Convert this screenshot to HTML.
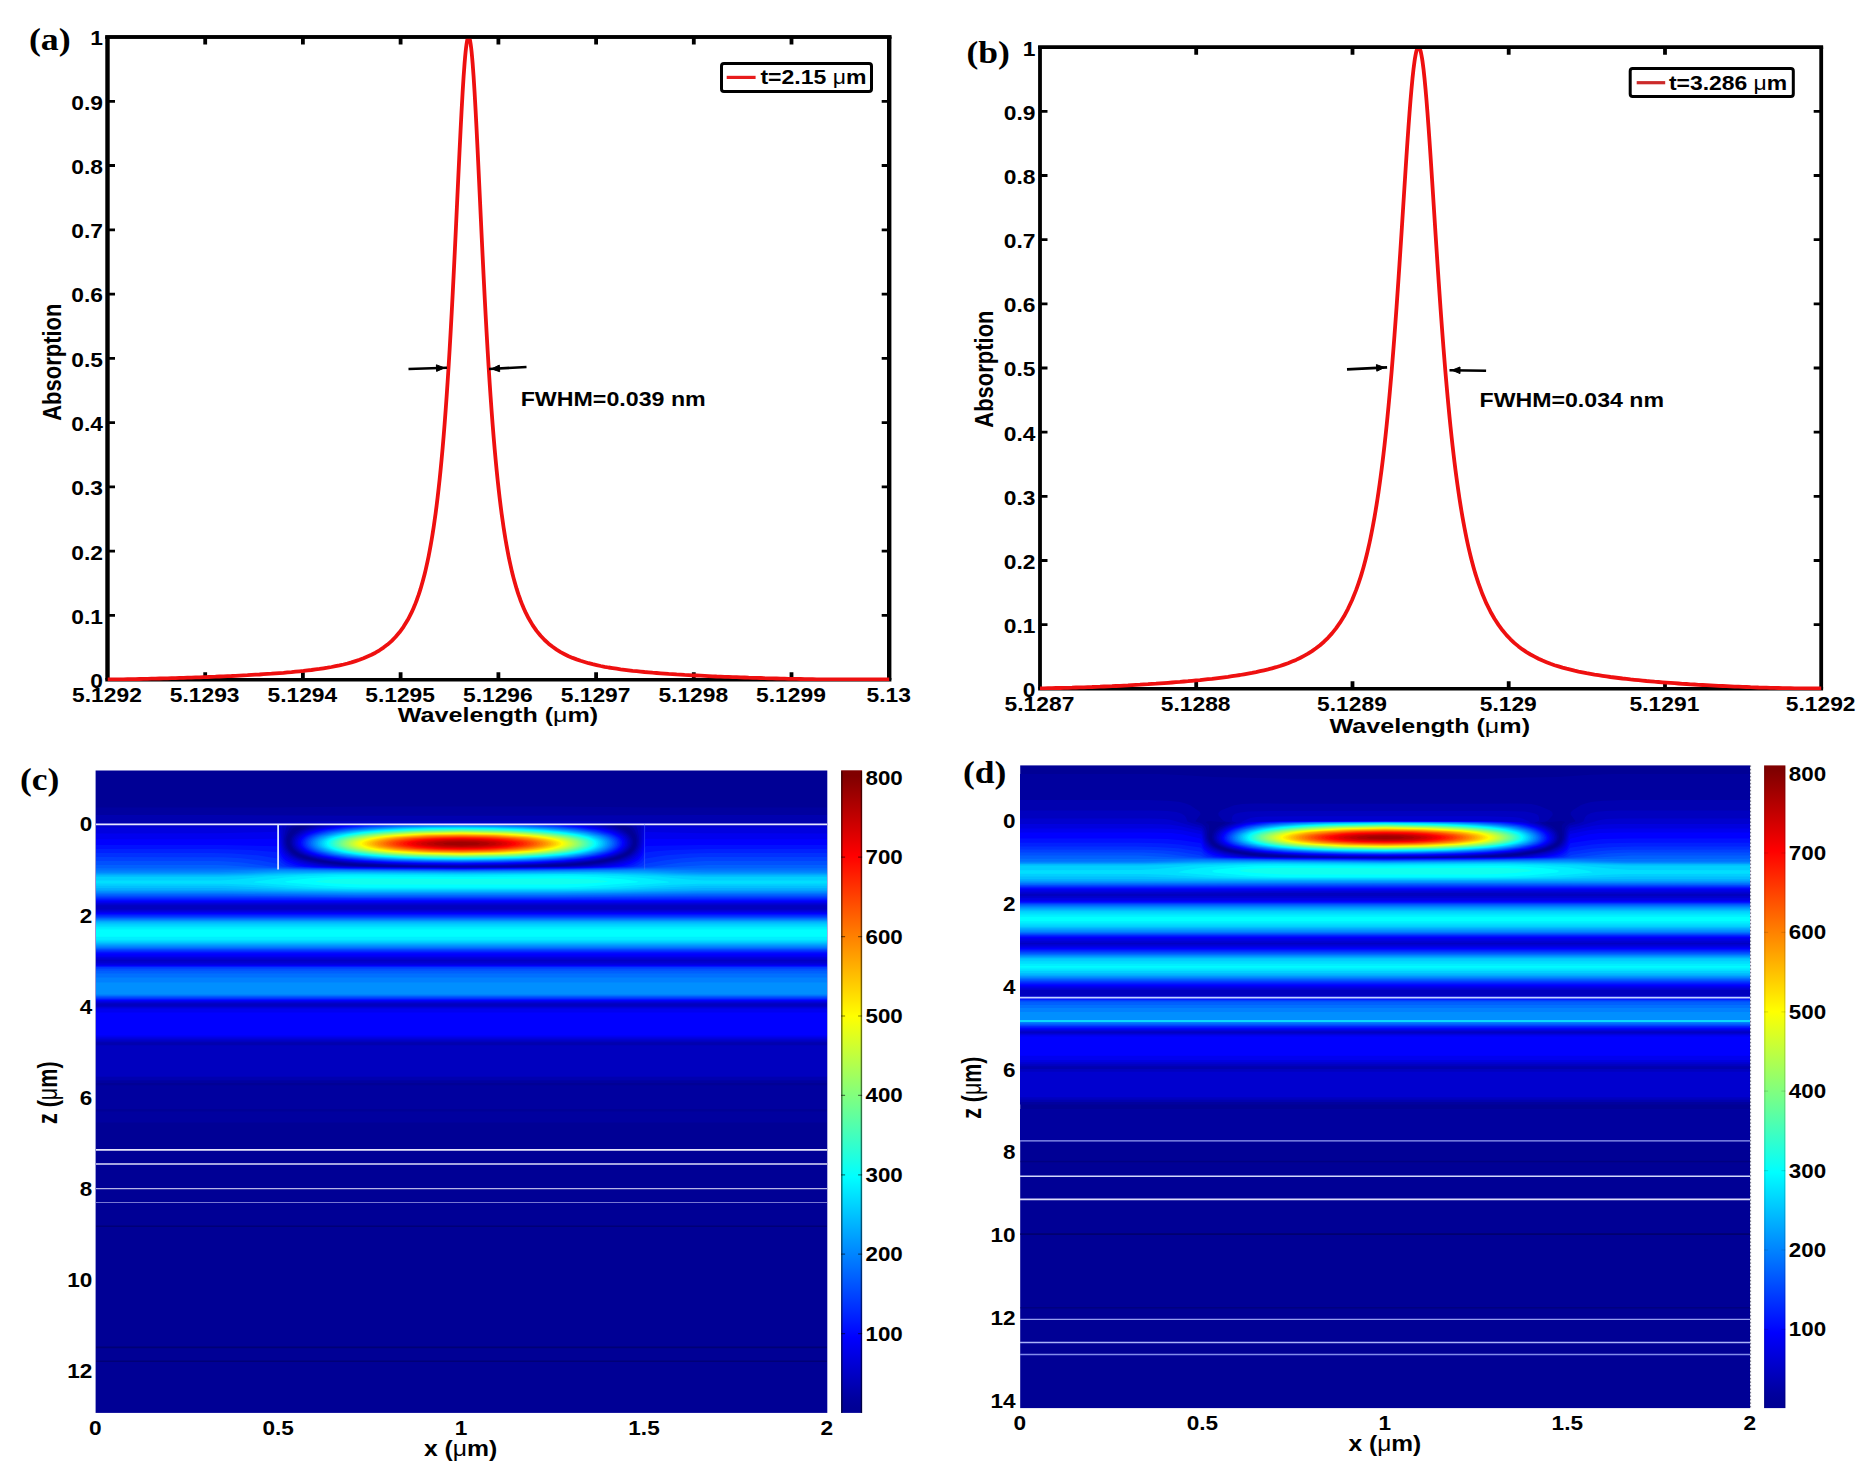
<!DOCTYPE html>
<html lang="en"><head><meta charset="utf-8"><title>Absorption spectra and field distributions</title>
<style>html,body{margin:0;padding:0;background:#fff}svg{display:block}</style></head>
<body>
<svg width="1868" height="1474" viewBox="0 0 1868 1474">
<rect width="1868" height="1474" fill="#fff"/>
<clipPath id="clipa"><rect x="107.5" y="36.0" width="781.7" height="645.2"/></clipPath>
<path d="M105.3,37.0H891.4000000000001M105.3,679.7H891.4000000000001" stroke="#000" stroke-width="3.6" fill="none"/>
<path d="M107.5,37.0V679.7M889.2,37.0V679.7" stroke="#000" stroke-width="4.4" fill="none"/>
<text transform="translate(107.0,701.7)" x="-34.9" y="0" font-family='"Liberation Sans", Arial, Helvetica, sans-serif' font-weight="bold" font-size="20" textLength="69.7" lengthAdjust="spacingAndGlyphs">5.1292</text>
<text transform="translate(204.7,701.7)" x="-34.9" y="0" font-family='"Liberation Sans", Arial, Helvetica, sans-serif' font-weight="bold" font-size="20" textLength="69.7" lengthAdjust="spacingAndGlyphs">5.1293</text>
<text transform="translate(302.4,701.7)" x="-34.9" y="0" font-family='"Liberation Sans", Arial, Helvetica, sans-serif' font-weight="bold" font-size="20" textLength="69.7" lengthAdjust="spacingAndGlyphs">5.1294</text>
<text transform="translate(400.1,701.7)" x="-34.9" y="0" font-family='"Liberation Sans", Arial, Helvetica, sans-serif' font-weight="bold" font-size="20" textLength="69.7" lengthAdjust="spacingAndGlyphs">5.1295</text>
<text transform="translate(497.9,701.7)" x="-34.9" y="0" font-family='"Liberation Sans", Arial, Helvetica, sans-serif' font-weight="bold" font-size="20" textLength="69.7" lengthAdjust="spacingAndGlyphs">5.1296</text>
<text transform="translate(595.6,701.7)" x="-34.9" y="0" font-family='"Liberation Sans", Arial, Helvetica, sans-serif' font-weight="bold" font-size="20" textLength="69.7" lengthAdjust="spacingAndGlyphs">5.1297</text>
<text transform="translate(693.3,701.7)" x="-34.9" y="0" font-family='"Liberation Sans", Arial, Helvetica, sans-serif' font-weight="bold" font-size="20" textLength="69.7" lengthAdjust="spacingAndGlyphs">5.1298</text>
<text transform="translate(791.0,701.7)" x="-34.9" y="0" font-family='"Liberation Sans", Arial, Helvetica, sans-serif' font-weight="bold" font-size="20" textLength="69.7" lengthAdjust="spacingAndGlyphs">5.1299</text>
<text transform="translate(888.7,701.7)" x="-22.2" y="0" font-family='"Liberation Sans", Arial, Helvetica, sans-serif' font-weight="bold" font-size="20" textLength="44.4" lengthAdjust="spacingAndGlyphs">5.13</text>
<path d="M205.2,679.7v-7.5M205.2,37.0v7.5M302.9,679.7v-7.5M302.9,37.0v7.5M400.6,679.7v-7.5M400.6,37.0v7.5M498.4,679.7v-7.5M498.4,37.0v7.5M596.1,679.7v-7.5M596.1,37.0v7.5M693.8,679.7v-7.5M693.8,37.0v7.5M791.5,679.7v-7.5M791.5,37.0v7.5" stroke="#000" stroke-width="3.8" fill="none"/>
<text transform="translate(102.9,688.0)" x="-12.7" y="0" font-family='"Liberation Sans", Arial, Helvetica, sans-serif' font-weight="bold" font-size="20" textLength="12.7" lengthAdjust="spacingAndGlyphs">0</text>
<text transform="translate(102.9,623.7)" x="-31.7" y="0" font-family='"Liberation Sans", Arial, Helvetica, sans-serif' font-weight="bold" font-size="20" textLength="31.7" lengthAdjust="spacingAndGlyphs">0.1</text>
<text transform="translate(102.9,559.5)" x="-31.7" y="0" font-family='"Liberation Sans", Arial, Helvetica, sans-serif' font-weight="bold" font-size="20" textLength="31.7" lengthAdjust="spacingAndGlyphs">0.2</text>
<text transform="translate(102.9,495.2)" x="-31.7" y="0" font-family='"Liberation Sans", Arial, Helvetica, sans-serif' font-weight="bold" font-size="20" textLength="31.7" lengthAdjust="spacingAndGlyphs">0.3</text>
<text transform="translate(102.9,430.9)" x="-31.7" y="0" font-family='"Liberation Sans", Arial, Helvetica, sans-serif' font-weight="bold" font-size="20" textLength="31.7" lengthAdjust="spacingAndGlyphs">0.4</text>
<text transform="translate(102.9,366.7)" x="-31.7" y="0" font-family='"Liberation Sans", Arial, Helvetica, sans-serif' font-weight="bold" font-size="20" textLength="31.7" lengthAdjust="spacingAndGlyphs">0.5</text>
<text transform="translate(102.9,302.4)" x="-31.7" y="0" font-family='"Liberation Sans", Arial, Helvetica, sans-serif' font-weight="bold" font-size="20" textLength="31.7" lengthAdjust="spacingAndGlyphs">0.6</text>
<text transform="translate(102.9,238.1)" x="-31.7" y="0" font-family='"Liberation Sans", Arial, Helvetica, sans-serif' font-weight="bold" font-size="20" textLength="31.7" lengthAdjust="spacingAndGlyphs">0.7</text>
<text transform="translate(102.9,173.8)" x="-31.7" y="0" font-family='"Liberation Sans", Arial, Helvetica, sans-serif' font-weight="bold" font-size="20" textLength="31.7" lengthAdjust="spacingAndGlyphs">0.8</text>
<text transform="translate(102.9,109.6)" x="-31.7" y="0" font-family='"Liberation Sans", Arial, Helvetica, sans-serif' font-weight="bold" font-size="20" textLength="31.7" lengthAdjust="spacingAndGlyphs">0.9</text>
<text transform="translate(102.9,45.3)" x="-12.7" y="0" font-family='"Liberation Sans", Arial, Helvetica, sans-serif' font-weight="bold" font-size="20" textLength="12.7" lengthAdjust="spacingAndGlyphs">1</text>
<path d="M107.5,615.4h7.5M889.2,615.4h-7.5M107.5,551.2h7.5M889.2,551.2h-7.5M107.5,486.9h7.5M889.2,486.9h-7.5M107.5,422.6h7.5M889.2,422.6h-7.5M107.5,358.4h7.5M889.2,358.4h-7.5M107.5,294.1h7.5M889.2,294.1h-7.5M107.5,229.8h7.5M889.2,229.8h-7.5M107.5,165.5h7.5M889.2,165.5h-7.5M107.5,101.3h7.5M889.2,101.3h-7.5" stroke="#000" stroke-width="2.8" fill="none"/>
<polyline clip-path="url(#clipa)" points="107.5,679.4 111.5,679.4 115.5,679.4 119.5,679.3 123.5,679.3 127.5,679.2 131.5,679.1 135.5,679.1 139.5,679.0 143.5,678.9 147.5,678.8 151.5,678.7 155.5,678.6 159.5,678.5 163.5,678.4 167.5,678.3 171.5,678.2 175.5,678.1 179.5,677.9 183.5,677.8 187.5,677.7 191.5,677.6 195.5,677.4 199.5,677.3 203.5,677.1 207.5,677.0 211.5,676.8 215.5,676.7 219.5,676.5 223.5,676.3 227.5,676.1 231.5,676.0 235.5,675.8 239.5,675.6 243.5,675.4 247.5,675.2 251.5,674.9 255.5,674.7 259.5,674.5 263.5,674.2 267.5,673.9 271.5,673.7 275.5,673.4 279.5,673.1 283.5,672.8 287.5,672.4 291.5,672.1 295.5,671.7 299.5,671.3 303.5,670.9 307.5,670.4 311.5,670.0 315.5,669.4 319.5,668.9 323.5,668.3 327.5,667.7 331.5,667.0 335.5,666.2 339.5,665.4 343.5,664.5 347.5,663.5 351.5,662.4 355.5,661.1 359.5,659.8 363.5,658.3 367.5,656.6 371.5,654.8 375.5,652.7 379.5,650.3 383.5,647.6 387.5,644.6 391.5,641.1 395.5,637.0 399.5,632.3 403.5,626.8 407.5,620.3 408.6,618.3 409.6,616.4 410.6,614.4 411.6,612.4 412.6,610.2 413.6,607.9 414.6,605.6 415.6,603.1 416.6,600.5 417.6,597.7 418.6,594.9 419.6,591.8 420.6,588.7 421.6,585.3 422.6,581.8 423.6,578.1 424.6,574.2 425.6,570.1 426.6,565.7 427.6,561.1 428.6,556.3 429.6,551.2 430.6,545.7 431.6,540.0 432.6,533.9 433.6,527.5 434.6,520.6 435.6,513.4 436.6,505.7 437.6,497.5 438.6,488.8 439.6,479.6 440.6,469.8 441.6,459.4 442.6,448.3 443.6,436.6 444.6,424.1 445.6,410.9 446.6,396.9 447.6,382.1 448.6,366.5 449.6,350.0 450.6,332.7 451.6,314.5 452.6,295.6 453.6,275.9 454.6,255.6 455.6,234.8 456.6,213.5 457.6,192.1 458.6,170.8 459.6,149.9 460.6,129.6 461.6,110.4 462.6,92.6 463.6,76.6 464.6,63.0 465.1,57.1 465.6,51.9 466.1,47.4 466.6,43.7 467.1,40.8 467.6,38.7 468.1,37.4 468.6,37.0 469.1,37.4 469.6,38.7 470.1,40.8 470.6,43.7 471.1,47.4 471.6,51.9 472.1,57.1 472.6,63.0 473.6,76.6 474.6,92.6 475.6,110.4 476.6,129.6 477.6,149.9 478.6,170.8 479.6,192.1 480.6,213.5 481.6,234.8 482.6,255.6 483.6,275.9 484.6,295.6 485.6,314.5 486.6,332.7 487.6,350.0 488.6,366.5 489.6,382.1 490.6,396.9 491.6,410.9 492.6,424.1 493.6,436.6 494.6,448.3 495.6,459.4 496.6,469.8 497.6,479.6 498.6,488.8 499.6,497.5 500.6,505.7 501.6,513.4 502.6,520.6 503.6,527.5 504.6,533.9 505.6,540.0 506.6,545.7 507.6,551.2 508.6,556.3 509.6,561.1 510.6,565.7 511.6,570.1 512.6,574.2 513.6,578.1 514.6,581.8 515.6,585.3 516.6,588.7 517.6,591.8 518.6,594.9 519.6,597.7 520.6,600.5 521.6,603.1 522.6,605.6 523.6,607.9 524.6,610.2 525.6,612.4 526.6,614.4 527.6,616.4 528.6,618.3 532.6,625.1 536.6,630.9 540.6,635.8 544.6,640.0 548.6,643.7 552.6,646.8 556.6,649.6 560.6,652.1 564.6,654.2 568.6,656.2 572.6,657.9 576.6,659.4 580.6,660.8 584.6,662.0 588.6,663.2 592.6,664.2 596.6,665.1 600.6,666.0 604.6,666.8 608.6,667.5 612.6,668.1 616.6,668.7 620.6,669.3 624.6,669.8 628.6,670.3 632.6,670.8 636.6,671.2 640.6,671.6 644.6,672.0 648.6,672.3 652.6,672.7 656.6,673.0 660.6,673.3 664.6,673.6 668.6,673.9 672.6,674.1 676.6,674.4 680.6,674.6 684.6,674.9 688.6,675.1 692.6,675.3 696.6,675.5 700.6,675.7 704.6,675.9 708.6,676.1 712.6,676.3 716.6,676.5 720.6,676.6 724.6,676.8 728.6,676.9 732.6,677.1 736.6,677.2 740.6,677.4 744.6,677.5 748.6,677.7 752.6,677.8 756.6,677.9 760.6,678.0 764.6,678.2 768.6,678.3 772.6,678.4 776.6,678.5 780.6,678.6 784.6,678.7 788.6,678.8 792.6,678.9 796.6,678.9 800.6,679.0 804.6,679.1 808.6,679.2 812.6,679.2 816.6,679.3 820.6,679.4 824.6,679.4 828.6,679.4 832.6,679.4 836.6,679.4 840.6,679.4 844.6,679.4 848.6,679.4 852.6,679.4 856.6,679.4 860.6,679.4 864.6,679.4 868.6,679.4 872.6,679.4 876.6,679.4 880.6,679.4 884.6,679.4 888.6,679.4 892.6,679.4" fill="none" stroke="#ee1010" stroke-width="3.8" stroke-linejoin="round"/>
<path d="M105.3,37.0H891.4000000000001" stroke="#000" stroke-width="3.6" fill="none"/>
<text transform="translate(498.0,722.0)" x="-100.2" y="0" font-family='"Liberation Sans", Arial, Helvetica, sans-serif' font-weight="bold" font-size="19.6" textLength="200.4" lengthAdjust="spacingAndGlyphs">Wavelength (<tspan font-weight="normal">μ</tspan>m)</text>
<text transform="translate(61.4,362.2) rotate(-90) scale(1,1.18)" x="-58.6" y="0" font-family='"Liberation Sans", Arial, Helvetica, sans-serif' font-weight="bold" font-size="22" textLength="117.2" lengthAdjust="spacingAndGlyphs">Absorption</text>
<rect x="721.5" y="63.5" width="150" height="28" rx="2.5" fill="#fff" stroke="#000" stroke-width="3"/>
<path d="M726.7,77.4H755.6" stroke="#e81c1c" stroke-width="3.2"/>
<text transform="translate(760.4,84.3)" x="0.0" y="0" font-family='"Liberation Sans", Arial, Helvetica, sans-serif' font-weight="bold" font-size="20" textLength="106.0" lengthAdjust="spacingAndGlyphs">t=2.15 <tspan font-weight="normal">μ</tspan>m</text>
<text transform="translate(520.7,405.6)" x="0.0" y="0" font-family='"Liberation Sans", Arial, Helvetica, sans-serif' font-weight="bold" font-size="20.5" textLength="185.0" lengthAdjust="spacingAndGlyphs">FWHM=0.039 nm</text>
<path d="M408.5,369.0L447.0,367.8" stroke="#000" stroke-width="2.6" fill="none"/>
<path d="M444.5,367.9L436.6,371.4L436.4,364.8Z" fill="#000" stroke="#000" stroke-width="1" stroke-linejoin="round"/>
<path d="M526.5,367.0L489.0,369.0" stroke="#000" stroke-width="2.6" fill="none"/>
<path d="M491.5,368.9L499.3,365.1L499.7,371.7Z" fill="#000" stroke="#000" stroke-width="1" stroke-linejoin="round"/>
<text x="28.9" y="49.5" font-family='"Liberation Serif", "Times New Roman", serif' font-weight="bold" font-size="32" textLength="41.8" lengthAdjust="spacingAndGlyphs">(a)</text>
<clipPath id="clipb"><rect x="1040.0" y="46.2" width="781.2" height="644.0999999999999"/></clipPath>
<path d="M1038.1,47.2H1823.1000000000001M1038.1,688.8H1823.1000000000001" stroke="#000" stroke-width="3.4" fill="none"/>
<path d="M1040.0,47.2V688.8M1821.2,47.2V688.8" stroke="#000" stroke-width="3.8" fill="none"/>
<text transform="translate(1039.5,710.8)" x="-34.9" y="0" font-family='"Liberation Sans", Arial, Helvetica, sans-serif' font-weight="bold" font-size="20" textLength="69.7" lengthAdjust="spacingAndGlyphs">5.1287</text>
<text transform="translate(1195.7,710.8)" x="-34.9" y="0" font-family='"Liberation Sans", Arial, Helvetica, sans-serif' font-weight="bold" font-size="20" textLength="69.7" lengthAdjust="spacingAndGlyphs">5.1288</text>
<text transform="translate(1352.0,710.8)" x="-34.9" y="0" font-family='"Liberation Sans", Arial, Helvetica, sans-serif' font-weight="bold" font-size="20" textLength="69.7" lengthAdjust="spacingAndGlyphs">5.1289</text>
<text transform="translate(1508.2,710.8)" x="-28.5" y="0" font-family='"Liberation Sans", Arial, Helvetica, sans-serif' font-weight="bold" font-size="20" textLength="57.1" lengthAdjust="spacingAndGlyphs">5.129</text>
<text transform="translate(1664.5,710.8)" x="-34.9" y="0" font-family='"Liberation Sans", Arial, Helvetica, sans-serif' font-weight="bold" font-size="20" textLength="69.7" lengthAdjust="spacingAndGlyphs">5.1291</text>
<text transform="translate(1820.7,710.8)" x="-34.9" y="0" font-family='"Liberation Sans", Arial, Helvetica, sans-serif' font-weight="bold" font-size="20" textLength="69.7" lengthAdjust="spacingAndGlyphs">5.1292</text>
<path d="M1196.2,688.8v-7.5M1196.2,47.2v7.5M1352.5,688.8v-7.5M1352.5,47.2v7.5M1508.7,688.8v-7.5M1508.7,47.2v7.5M1665.0,688.8v-7.5M1665.0,47.2v7.5" stroke="#000" stroke-width="3.8" fill="none"/>
<text transform="translate(1035.4,697.1)" x="-12.7" y="0" font-family='"Liberation Sans", Arial, Helvetica, sans-serif' font-weight="bold" font-size="20" textLength="12.7" lengthAdjust="spacingAndGlyphs">0</text>
<text transform="translate(1035.4,632.9)" x="-31.7" y="0" font-family='"Liberation Sans", Arial, Helvetica, sans-serif' font-weight="bold" font-size="20" textLength="31.7" lengthAdjust="spacingAndGlyphs">0.1</text>
<text transform="translate(1035.4,568.8)" x="-31.7" y="0" font-family='"Liberation Sans", Arial, Helvetica, sans-serif' font-weight="bold" font-size="20" textLength="31.7" lengthAdjust="spacingAndGlyphs">0.2</text>
<text transform="translate(1035.4,504.6)" x="-31.7" y="0" font-family='"Liberation Sans", Arial, Helvetica, sans-serif' font-weight="bold" font-size="20" textLength="31.7" lengthAdjust="spacingAndGlyphs">0.3</text>
<text transform="translate(1035.4,440.5)" x="-31.7" y="0" font-family='"Liberation Sans", Arial, Helvetica, sans-serif' font-weight="bold" font-size="20" textLength="31.7" lengthAdjust="spacingAndGlyphs">0.4</text>
<text transform="translate(1035.4,376.3)" x="-31.7" y="0" font-family='"Liberation Sans", Arial, Helvetica, sans-serif' font-weight="bold" font-size="20" textLength="31.7" lengthAdjust="spacingAndGlyphs">0.5</text>
<text transform="translate(1035.4,312.1)" x="-31.7" y="0" font-family='"Liberation Sans", Arial, Helvetica, sans-serif' font-weight="bold" font-size="20" textLength="31.7" lengthAdjust="spacingAndGlyphs">0.6</text>
<text transform="translate(1035.4,248.0)" x="-31.7" y="0" font-family='"Liberation Sans", Arial, Helvetica, sans-serif' font-weight="bold" font-size="20" textLength="31.7" lengthAdjust="spacingAndGlyphs">0.7</text>
<text transform="translate(1035.4,183.8)" x="-31.7" y="0" font-family='"Liberation Sans", Arial, Helvetica, sans-serif' font-weight="bold" font-size="20" textLength="31.7" lengthAdjust="spacingAndGlyphs">0.8</text>
<text transform="translate(1035.4,119.7)" x="-31.7" y="0" font-family='"Liberation Sans", Arial, Helvetica, sans-serif' font-weight="bold" font-size="20" textLength="31.7" lengthAdjust="spacingAndGlyphs">0.9</text>
<text transform="translate(1035.4,55.5)" x="-12.7" y="0" font-family='"Liberation Sans", Arial, Helvetica, sans-serif' font-weight="bold" font-size="20" textLength="12.7" lengthAdjust="spacingAndGlyphs">1</text>
<path d="M1040.0,624.6h7.5M1821.2,624.6h-7.5M1040.0,560.5h7.5M1821.2,560.5h-7.5M1040.0,496.3h7.5M1821.2,496.3h-7.5M1040.0,432.2h7.5M1821.2,432.2h-7.5M1040.0,368.0h7.5M1821.2,368.0h-7.5M1040.0,303.8h7.5M1821.2,303.8h-7.5M1040.0,239.7h7.5M1821.2,239.7h-7.5M1040.0,175.5h7.5M1821.2,175.5h-7.5M1040.0,111.4h7.5M1821.2,111.4h-7.5" stroke="#000" stroke-width="2.8" fill="none"/>
<polyline clip-path="url(#clipb)" points="1040.0,688.3 1044.0,688.3 1048.0,688.2 1052.0,688.1 1056.0,688.0 1060.0,688.0 1064.0,687.9 1068.0,687.8 1072.0,687.7 1076.0,687.5 1080.0,687.4 1084.0,687.3 1088.0,687.1 1092.0,687.0 1096.0,686.8 1100.0,686.7 1104.0,686.5 1108.0,686.3 1112.0,686.2 1116.0,686.0 1120.0,685.8 1124.0,685.6 1128.0,685.4 1132.0,685.1 1136.0,684.9 1140.0,684.7 1144.0,684.4 1148.0,684.2 1152.0,683.9 1156.0,683.7 1160.0,683.4 1164.0,683.1 1168.0,682.8 1172.0,682.5 1176.0,682.2 1180.0,681.9 1184.0,681.5 1188.0,681.2 1192.0,680.8 1196.0,680.4 1200.0,680.1 1204.0,679.6 1208.0,679.2 1212.0,678.8 1216.0,678.3 1220.0,677.8 1224.0,677.3 1228.0,676.8 1232.0,676.2 1236.0,675.6 1240.0,675.0 1244.0,674.3 1248.0,673.6 1252.0,672.9 1256.0,672.1 1260.0,671.2 1264.0,670.3 1268.0,669.4 1272.0,668.3 1276.0,667.2 1280.0,666.0 1284.0,664.6 1288.0,663.2 1292.0,661.6 1296.0,659.9 1300.0,658.0 1304.0,655.9 1308.0,653.7 1312.0,651.1 1316.0,648.3 1320.0,645.2 1324.0,641.7 1328.0,637.8 1332.0,633.4 1336.0,628.4 1340.0,622.7 1344.0,616.3 1348.0,608.8 1352.0,600.3 1356.0,590.4 1358.5,583.4 1359.5,580.4 1360.5,577.3 1361.5,574.1 1362.5,570.7 1363.5,567.2 1364.5,563.5 1365.5,559.7 1366.5,555.7 1367.5,551.6 1368.5,547.3 1369.5,542.8 1370.5,538.1 1371.5,533.1 1372.5,528.0 1373.5,522.7 1374.5,517.1 1375.5,511.2 1376.5,505.1 1377.5,498.7 1378.5,492.1 1379.5,485.1 1380.5,477.8 1381.5,470.2 1382.5,462.2 1383.5,453.9 1384.5,445.2 1385.5,436.1 1386.5,426.6 1387.5,416.7 1388.5,406.4 1389.5,395.6 1390.5,384.4 1391.5,372.8 1392.5,360.7 1393.5,348.1 1394.5,335.1 1395.5,321.7 1396.5,307.8 1397.5,293.5 1398.5,278.9 1399.5,264.0 1400.5,248.7 1401.5,233.3 1402.5,217.7 1403.5,202.0 1404.5,186.4 1405.5,170.9 1406.5,155.7 1407.5,140.9 1408.5,126.6 1409.5,113.1 1410.5,100.4 1411.5,88.8 1412.5,78.3 1413.5,69.1 1414.5,61.4 1415.0,58.1 1415.5,55.3 1416.0,52.8 1416.5,50.8 1417.0,49.2 1417.5,48.1 1418.0,47.4 1418.5,47.2 1419.0,47.4 1419.5,48.1 1420.0,49.2 1420.5,50.8 1421.0,52.8 1421.5,55.3 1422.0,58.1 1422.5,61.4 1423.5,69.1 1424.5,78.3 1425.5,88.8 1426.5,100.4 1427.5,113.1 1428.5,126.6 1429.5,140.9 1430.5,155.7 1431.5,170.9 1432.5,186.4 1433.5,202.0 1434.5,217.7 1435.5,233.3 1436.5,248.7 1437.5,264.0 1438.5,278.9 1439.5,293.5 1440.5,307.8 1441.5,321.7 1442.5,335.1 1443.5,348.1 1444.5,360.7 1445.5,372.8 1446.5,384.4 1447.5,395.6 1448.5,406.4 1449.5,416.7 1450.5,426.6 1451.5,436.1 1452.5,445.2 1453.5,453.9 1454.5,462.2 1455.5,470.2 1456.5,477.8 1457.5,485.1 1458.5,492.1 1459.5,498.7 1460.5,505.1 1461.5,511.2 1462.5,517.1 1463.5,522.7 1464.5,528.0 1465.5,533.1 1466.5,538.1 1467.5,542.8 1468.5,547.3 1469.5,551.6 1470.5,555.7 1471.5,559.7 1472.5,563.5 1473.5,567.2 1474.5,570.7 1475.5,574.1 1476.5,577.3 1477.5,580.4 1478.5,583.4 1482.5,594.3 1486.5,603.7 1490.5,611.7 1494.5,618.8 1498.5,624.9 1502.5,630.3 1506.5,635.1 1510.5,639.3 1514.5,643.1 1518.5,646.4 1522.5,649.4 1526.5,652.1 1530.5,654.5 1534.5,656.7 1538.5,658.8 1542.5,660.6 1546.5,662.2 1550.5,663.8 1554.5,665.2 1558.5,666.4 1562.5,667.6 1566.5,668.7 1570.5,669.7 1574.5,670.7 1578.5,671.6 1582.5,672.4 1586.5,673.2 1590.5,673.9 1594.5,674.6 1598.5,675.2 1602.5,675.8 1606.5,676.4 1610.5,677.0 1614.5,677.5 1618.5,678.0 1622.5,678.5 1626.5,678.9 1630.5,679.4 1634.5,679.8 1638.5,680.2 1642.5,680.6 1646.5,681.0 1650.5,681.3 1654.5,681.7 1658.5,682.0 1662.5,682.3 1666.5,682.6 1670.5,682.9 1674.5,683.2 1678.5,683.5 1682.5,683.8 1686.5,684.0 1690.5,684.3 1694.5,684.5 1698.5,684.8 1702.5,685.0 1706.5,685.2 1710.5,685.4 1714.5,685.6 1718.5,685.8 1722.5,686.0 1726.5,686.2 1730.5,686.4 1734.5,686.6 1738.5,686.7 1742.5,686.9 1746.5,687.0 1750.5,687.2 1754.5,687.3 1758.5,687.5 1762.5,687.6 1766.5,687.7 1770.5,687.8 1774.5,687.9 1778.5,688.0 1782.5,688.1 1786.5,688.2 1790.5,688.2 1794.5,688.3 1798.5,688.4 1802.5,688.4 1806.5,688.5 1810.5,688.5 1814.5,688.5 1818.5,688.5 1822.5,688.5" fill="none" stroke="#ee1010" stroke-width="3.8" stroke-linejoin="round"/>
<path d="M1038.1,47.2H1823.1000000000001" stroke="#000" stroke-width="3.4" fill="none"/>
<text transform="translate(1429.8,732.6)" x="-100.2" y="0" font-family='"Liberation Sans", Arial, Helvetica, sans-serif' font-weight="bold" font-size="19.6" textLength="200.4" lengthAdjust="spacingAndGlyphs">Wavelength (<tspan font-weight="normal">μ</tspan>m)</text>
<text transform="translate(993.4,369.1) rotate(-90) scale(1,1.18)" x="-58.6" y="0" font-family='"Liberation Sans", Arial, Helvetica, sans-serif' font-weight="bold" font-size="22" textLength="117.2" lengthAdjust="spacingAndGlyphs">Absorption</text>
<rect x="1630.2" y="68.5" width="163.0999999999999" height="28" rx="2.5" fill="#fff" stroke="#000" stroke-width="3"/>
<path d="M1636.7,82.7H1665.2" stroke="#cc2a2a" stroke-width="3.2"/>
<text transform="translate(1668.9,89.6)" x="0.0" y="0" font-family='"Liberation Sans", Arial, Helvetica, sans-serif' font-weight="bold" font-size="20" textLength="118.3" lengthAdjust="spacingAndGlyphs">t=3.286 <tspan font-weight="normal">μ</tspan>m</text>
<text transform="translate(1479.6,407.3)" x="0.0" y="0" font-family='"Liberation Sans", Arial, Helvetica, sans-serif' font-weight="bold" font-size="20.5" textLength="184.4" lengthAdjust="spacingAndGlyphs">FWHM=0.034 nm</text>
<path d="M1347.0,369.4L1387.1,367.4" stroke="#000" stroke-width="2.6" fill="none"/>
<path d="M1384.6,367.5L1376.8,371.2L1376.4,364.6Z" fill="#000" stroke="#000" stroke-width="1" stroke-linejoin="round"/>
<path d="M1486.1,370.7L1449.5,370.2" stroke="#000" stroke-width="2.6" fill="none"/>
<path d="M1452.0,370.2L1460.0,367.0L1460.0,373.6Z" fill="#000" stroke="#000" stroke-width="1" stroke-linejoin="round"/>
<text x="966.5" y="63" font-family='"Liberation Serif", "Times New Roman", serif' font-weight="bold" font-size="32" textLength="43.4" lengthAdjust="spacingAndGlyphs">(b)</text>
<rect x="95.6" y="770.5" width="731.7" height="642.4" fill="#000095"/>
<clipPath id="hcc"><rect x="96" y="771" width="731" height="642"/></clipPath>
<g clip-path="url(#hcc)">
<path fill="#00009f" fill-rule="evenodd" d="M92.6,807.5 268.5,807.4 367.5,806.6 558.4,806.6 655.4,807.4 830.3,807.5 830.3,1083.1 92.6,1083.1ZM287.7,836.5 287.1,839.5 287.2,843.5 288.0,846.5 289.7,849.5 292.6,852.6 295.5,854.6 299.6,856.6 305.2,858.6 318.8,861.6 343.2,864.6 367.5,866.0 378.8,865.6 360.5,865.0 346.5,863.9 328.5,861.8 316.5,859.7 310.5,858.3 303.5,856.1 298.5,853.8 294.0,850.5 291.0,846.5 290.0,842.5 290.5,838.5 292.5,834.8 296.5,831.0 301.5,828.1 308.8,825.5 309.5,824.5 301.5,824.5 296.5,826.0 293.5,828.1 291.5,830.1 289.1,833.5ZM635.5,836.5 634.4,834.1 632.1,830.5 629.4,827.9 626.4,825.9 621.7,824.5 613.7,824.5 614.4,825.5 621.4,828.0 626.4,830.8 630.5,834.5 632.7,838.5 633.1,840.5 633.1,843.5 631.7,847.5 628.4,851.3 624.4,854.0 619.4,856.2 613.4,858.1 606.4,859.8 594.4,861.9 576.4,863.9 563.4,864.9 544.4,865.6 556.4,866.0 580.0,864.6 604.4,861.6 618.0,858.6 623.4,856.7 627.7,854.6 630.6,852.6 633.4,849.7 635.2,846.5 636.0,843.5 636.1,839.5ZM92.6,1085.2 830.3,1085.2 830.3,1108.9 92.6,1108.9ZM92.6,1111.6 830.3,1111.6 830.3,1122.4 92.6,1122.4Z"/>
<path fill="#0000af" fill-rule="evenodd" d="M92.6,815.1 221.5,815.1 367.5,815.7 571.4,815.6 701.4,815.1 830.3,815.1 830.3,1080.2 92.6,1080.2ZM285.5,840.5 285.9,844.5 287.0,847.5 288.5,850.2 290.7,852.6 293.5,854.7 297.5,856.9 302.5,858.8 308.5,860.5 322.5,863.1 344.3,865.6 363.0,866.6 395.5,867.0 543.4,866.8 560.2,866.6 587.4,864.8 601.4,863.0 612.4,861.0 620.4,858.9 626.4,856.5 631.4,853.5 635.1,849.5 637.0,845.5 637.7,840.5 637.0,835.5 635.0,830.5 632.4,826.7 630.4,825.1 627.4,824.4 619.4,823.9 605.9,824.5 617.4,828.1 623.4,830.8 626.4,832.9 629.2,835.5 631.4,839.5 631.7,841.5 631.4,844.5 630.1,847.5 628.4,849.6 626.2,851.6 622.4,853.8 613.4,857.2 605.4,859.1 594.4,861.0 577.4,862.9 563.4,864.0 508.4,866.0 461.5,866.5 415.5,866.0 360.5,864.0 345.5,862.9 328.5,860.9 317.5,859.0 309.5,857.1 300.5,853.7 297.0,851.6 294.7,849.5 293.1,847.5 291.8,844.5 291.5,841.5 291.8,839.5 292.6,837.5 294.5,834.9 299.5,831.0 305.5,828.2 317.3,824.5 302.5,824.0 294.5,824.5 292.5,825.3 290.1,827.5 287.8,831.5 286.0,836.5Z"/>
<path fill="#0000bf" fill-rule="evenodd" d="M92.6,823.3 232.5,823.2 278.4,822.5 324.5,821.2 367.5,820.8 568.4,820.8 689.4,823.2 830.3,823.3 830.3,1042.2 92.6,1042.2ZM284.1,839.5 284.5,844.5 285.9,848.5 288.5,852.3 291.5,854.9 296.5,857.7 302.5,859.9 310.5,861.9 318.5,863.4 334.5,865.5 349.7,866.6 395.5,867.3 461.5,867.5 528.4,867.3 573.5,866.6 588.4,865.5 604.4,863.4 613.4,861.7 620.4,860.0 626.4,857.8 631.4,855.1 634.4,852.6 637.3,848.5 638.7,844.5 639.1,839.5 638.8,835.5 637.4,828.8 636.3,825.5 635.4,824.2 632.4,823.7 617.4,823.1 599.4,824.1 597.7,824.5 612.4,827.8 620.4,830.8 626.2,834.5 628.1,836.5 629.3,838.5 630.0,840.5 630.1,843.5 629.4,846.0 627.7,848.5 625.6,850.5 622.4,852.7 618.4,854.6 613.4,856.3 604.4,858.5 593.4,860.4 579.4,862.1 563.4,863.3 519.4,865.1 461.5,865.8 403.5,865.1 359.5,863.3 343.5,862.0 329.5,860.4 318.5,858.5 309.5,856.2 304.8,854.6 300.6,852.6 297.6,850.5 295.5,848.5 293.6,845.5 293.1,843.5 293.2,840.5 293.9,838.5 295.1,836.5 297.0,834.5 302.5,831.0 310.5,827.9 325.5,824.5 323.5,824.1 305.5,823.1 288.5,824.0 287.4,824.5 286.2,827.5 284.4,835.5ZM92.6,1045.2 830.3,1045.2 830.3,1076.7 92.6,1076.7Z"/>
<path fill="#0000cf" fill-rule="evenodd" d="M294.6,842.5 295.1,839.5 297.0,836.5 300.5,833.7 305.5,831.0 310.5,829.2 317.5,827.3 336.5,824.1 377.5,823.2 460.5,822.9 544.4,823.2 586.4,824.1 605.4,827.3 612.4,829.1 617.4,830.9 622.5,833.5 626.2,836.5 628.1,839.5 628.6,842.5 628.0,845.5 626.0,848.5 622.4,851.5 618.5,853.6 613.4,855.5 607.4,857.1 590.4,860.2 569.4,862.3 540.4,863.9 502.4,865.0 461.5,865.3 420.5,865.0 382.5,863.9 353.5,862.3 332.5,860.2 316.5,857.3 310.1,855.6 304.5,853.5 300.5,851.3 297.2,848.5 295.2,845.5ZM92.6,824.2 279.5,824.2 281.1,824.5 282.0,825.5 282.7,830.5 282.6,838.5 283.0,843.5 284.0,847.5 286.2,851.6 289.5,855.1 293.5,857.6 299.5,860.1 306.5,862.1 323.5,865.1 338.8,866.6 391.9,867.6 461.5,867.8 531.3,867.6 584.4,866.6 600.4,865.0 617.4,861.9 624.4,859.9 629.8,857.6 634.3,854.6 637.0,851.6 639.2,847.5 640.2,843.5 640.6,838.5 640.5,830.5 641.2,825.5 642.1,824.5 644.4,824.2 830.3,824.2 830.3,905.2 92.6,905.2ZM92.6,909.5 830.3,909.5 830.3,960.2 92.6,960.2ZM92.6,961.3 830.3,961.3 830.3,1003.5 92.6,1003.5ZM92.6,1006.4 830.3,1006.4 830.3,1040.5 92.6,1040.5Z"/>
<path fill="#0000df" fill-rule="evenodd" d="M296.1,842.5 296.8,839.5 299.0,836.5 302.5,833.9 307.3,831.5 312.5,829.7 319.5,827.9 337.5,825.1 347.5,824.2 364.5,823.8 460.5,823.6 558.4,823.8 575.4,824.2 585.4,825.1 603.4,827.9 610.4,829.6 615.9,831.5 621.4,834.3 624.2,836.5 626.4,839.5 627.1,842.5 626.5,845.5 624.4,848.5 621.4,850.9 617.4,853.1 612.4,855.0 605.4,856.9 588.4,859.9 567.4,862.0 540.4,863.4 504.4,864.4 461.5,864.8 418.5,864.4 382.5,863.4 355.5,861.9 334.5,859.8 317.5,856.8 310.5,854.9 305.5,852.9 301.5,850.7 298.8,848.5 296.7,845.5ZM92.6,827.6 219.5,827.5 277.5,826.6 278.5,826.8 280.3,830.5 282.0,845.5 283.4,849.5 285.5,853.1 289.1,856.6 293.5,859.1 298.5,861.1 306.5,863.2 320.5,865.7 329.2,866.6 389.5,867.8 461.5,868.1 534.4,867.8 594.0,866.6 603.4,865.6 617.4,863.0 625.4,860.8 630.4,858.8 635.3,855.6 638.1,852.6 639.8,849.5 641.2,845.5 642.9,830.5 644.4,827.2 645.4,826.6 703.4,827.5 830.3,827.6 830.3,903.8 92.6,903.8ZM92.6,910.8 830.3,910.8 830.3,958.6 92.6,958.6ZM92.6,963.3 830.3,963.3 830.3,1002.4 92.6,1002.4ZM92.6,1007.6 830.3,1007.6 830.3,1038.8 92.6,1038.8Z"/>
<path fill="#0000ef" fill-rule="evenodd" d="M297.7,842.5 298.5,839.5 300.5,836.9 303.8,834.5 308.5,832.2 314.5,830.2 320.5,828.7 338.5,825.8 352.7,824.5 367.5,824.1 460.5,823.7 555.4,824.1 570.5,824.5 584.4,825.8 602.4,828.6 608.4,830.1 614.4,832.1 619.4,834.5 622.4,836.6 624.7,839.5 625.5,842.5 624.9,845.5 623.6,847.5 620.4,850.3 616.4,852.6 611.1,854.6 604.4,856.4 587.4,859.4 567.4,861.4 538.4,863.0 501.4,864.1 461.5,864.4 421.5,864.0 384.5,863.0 355.5,861.4 335.5,859.4 318.5,856.3 312.1,854.6 306.8,852.6 302.5,850.1 299.6,847.5 298.3,845.5ZM92.6,833.4 220.5,833.3 277.5,831.8 278.5,832.1 279.0,833.5 280.6,844.5 281.6,848.5 283.3,852.6 285.6,855.6 289.5,858.6 294.5,861.1 301.5,863.3 309.5,865.1 320.3,866.6 349.5,867.5 461.5,868.3 574.4,867.5 602.9,866.6 614.4,864.9 622.4,863.1 629.4,860.8 633.8,858.6 637.6,855.6 639.9,852.6 641.6,848.5 642.6,844.5 644.2,833.5 645.4,831.9 703.4,833.3 830.3,833.4 830.3,902.7 92.6,902.7ZM92.6,912.1 830.3,912.1 830.3,957.1 92.6,957.1ZM92.6,964.7 830.3,964.7 830.3,1001.5 92.6,1001.5ZM92.6,1008.7 830.3,1008.7 830.3,1037.2 92.6,1037.2Z"/>
<path fill="#0000ff" fill-rule="evenodd" d="M299.3,842.5 300.2,839.5 302.5,836.9 306.1,834.5 310.5,832.6 316.5,830.6 323.5,828.9 341.5,826.2 356.5,824.9 371.5,824.3 461.5,823.8 551.4,824.3 566.4,824.9 581.4,826.2 599.4,828.9 606.4,830.5 612.4,832.5 617.1,834.5 620.4,836.6 623.0,839.5 623.9,842.5 623.3,845.5 621.9,847.5 618.4,850.4 614.2,852.6 608.6,854.6 602.4,856.2 585.4,859.1 564.4,861.2 535.4,862.7 499.4,863.6 461.5,864.0 423.5,863.6 387.5,862.7 358.5,861.1 337.5,859.1 320.5,856.1 314.5,854.5 309.0,852.6 304.5,850.2 301.3,847.5 299.9,845.5ZM92.6,839.2 222.5,839.2 277.5,838.7 278.5,839.6 279.8,846.5 281.2,851.6 282.8,854.6 285.3,857.6 288.5,860.0 293.5,862.3 299.5,864.2 306.5,865.8 316.5,866.8 347.5,867.8 461.5,868.6 575.4,867.8 605.4,866.9 616.4,865.8 623.4,864.2 630.4,862.0 634.4,860.1 637.9,857.6 639.7,855.6 641.6,852.6 643.2,847.5 644.4,841.2 645.4,838.9 646.4,838.7 700.4,839.2 830.3,839.2 830.3,901.6 92.6,901.6ZM92.6,913.1 830.3,913.1 830.3,955.4 92.6,955.4ZM92.6,965.5 830.3,965.5 830.3,1000.7 92.6,1000.7ZM92.6,1012.6 830.3,1012.6 830.3,1035.4 92.6,1035.4Z"/>
<path fill="#0010ff" fill-rule="evenodd" d="M300.9,842.5 301.9,839.5 303.7,837.5 306.5,835.5 311.5,833.2 323.5,829.8 341.5,826.9 356.5,825.5 374.3,824.5 461.5,824.0 548.9,824.5 566.4,825.5 581.4,826.9 599.4,829.7 611.4,833.1 616.4,835.4 619.5,837.5 621.3,839.5 622.3,842.5 621.7,845.5 620.2,847.5 616.4,850.5 612.4,852.4 607.4,854.2 600.4,856.0 583.4,858.8 562.4,860.8 535.4,862.3 500.4,863.2 461.5,863.5 422.5,863.2 387.5,862.2 360.5,860.8 339.5,858.8 322.5,855.9 315.5,854.1 310.5,852.3 306.5,850.3 303.0,847.5 301.5,845.5ZM92.6,845.0 224.5,845.0 277.5,846.2 278.5,847.0 280.0,852.6 281.5,855.8 283.5,858.5 285.5,860.2 288.5,862.0 293.5,864.0 298.6,865.6 304.2,866.6 325.0,867.6 353.5,868.2 461.5,868.9 569.4,868.2 598.2,867.6 619.0,866.6 624.6,865.6 630.4,863.8 635.4,861.6 638.4,859.7 641.8,855.6 643.2,852.6 644.4,848.2 645.4,846.4 646.4,846.1 699.4,845.0 830.3,845.0 830.3,900.5 92.6,900.5ZM92.6,914.0 830.3,914.0 830.3,953.6 92.6,953.6ZM92.6,966.0 830.3,966.0 830.3,1000.1 92.6,1000.1Z"/>
<path fill="#0020ff" fill-rule="evenodd" d="M302.5,842.5 303.7,839.5 305.6,837.5 308.7,835.5 313.5,833.5 319.5,831.6 326.5,830.0 344.5,827.3 364.0,825.5 387.1,824.5 461.5,824.1 536.1,824.5 559.2,825.5 579.4,827.4 597.4,830.1 609.9,833.5 614.5,835.5 617.6,837.5 619.5,839.5 620.7,842.5 620.0,845.5 618.5,847.5 616.1,849.5 611.4,851.9 606.4,853.7 599.4,855.5 583.4,858.3 562.4,860.4 534.4,861.9 499.4,862.8 461.5,863.2 424.5,862.9 389.5,861.9 360.5,860.3 340.5,858.4 323.5,855.5 316.5,853.6 311.5,851.8 307.1,849.5 304.7,847.5 303.2,845.5ZM92.6,849.0 216.6,849.0 251.5,850.1 277.5,852.3 278.5,853.0 280.9,858.6 283.5,861.3 286.5,863.2 290.5,865.0 296.7,866.6 313.8,867.6 346.5,868.3 461.5,869.1 576.4,868.3 609.4,867.6 626.5,866.6 633.4,864.7 639.4,861.5 642.4,858.4 644.4,853.9 645.4,852.5 655.4,851.3 672.4,850.0 706.3,849.1 830.3,849.0 830.3,899.5 556.4,899.9 92.6,899.5ZM92.6,914.8 830.3,914.8 830.3,952.3 92.6,952.3ZM92.6,966.5 830.3,966.5 830.3,999.5 92.6,999.5Z"/>
<path fill="#0030ff" fill-rule="evenodd" d="M304.2,842.5 305.4,839.5 307.5,837.5 310.9,835.5 314.5,834.0 327.5,830.5 344.5,827.9 366.5,825.9 388.5,824.9 461.5,824.3 534.4,824.9 556.4,825.9 578.4,827.9 595.4,830.4 608.4,833.9 612.3,835.5 615.7,837.5 617.8,839.5 619.0,842.5 618.4,845.5 616.8,847.5 614.2,849.5 610.3,851.6 604.6,853.6 598.4,855.1 581.4,858.0 561.4,860.0 534.4,861.5 501.4,862.4 461.5,862.8 422.5,862.4 388.5,861.4 361.5,860.0 341.5,858.0 324.5,855.1 318.5,853.5 312.9,851.6 309.0,849.5 306.4,847.5 304.8,845.5ZM92.6,853.0 213.6,853.0 232.5,853.5 257.5,855.3 277.5,858.4 278.5,858.9 281.5,862.8 286.0,865.6 289.5,866.6 296.5,867.1 316.5,868.0 351.5,868.7 461.5,869.4 571.4,868.7 605.4,868.1 626.4,867.2 633.7,866.6 637.2,865.6 641.4,863.0 645.4,858.5 666.4,855.3 690.4,853.5 710.3,853.0 830.3,853.0 830.3,898.4 556.4,899.0 92.6,898.4ZM92.6,915.6 830.3,915.6 830.3,951.4 92.6,951.4ZM92.6,967.1 830.3,967.1 830.3,998.9 92.6,998.9Z"/>
<path fill="#0040ff" fill-rule="evenodd" d="M305.8,843.5 306.5,840.5 308.2,838.5 311.1,836.5 314.5,834.9 320.5,833.0 327.5,831.2 343.5,828.7 363.5,826.7 387.5,825.3 422.8,824.5 461.5,824.4 500.4,824.5 536.4,825.3 560.4,826.8 580.4,828.7 596.4,831.4 608.4,834.8 612.1,836.5 615.0,838.5 616.7,840.5 617.4,843.5 616.7,845.5 615.1,847.5 612.3,849.5 607.4,851.8 595.4,855.2 578.4,857.9 558.4,859.8 531.4,861.2 498.4,862.1 461.5,862.4 425.5,862.1 392.5,861.2 365.5,859.8 345.5,858.0 328.5,855.3 316.5,852.1 312.8,850.5 309.3,848.5 307.1,846.5ZM92.6,856.9 223.5,857.2 241.5,858.3 258.5,860.3 278.5,864.0 280.3,865.6 282.7,866.6 294.5,867.6 350.5,869.0 461.5,869.6 571.4,869.0 628.4,867.6 640.5,866.6 642.9,865.6 645.4,863.8 665.4,860.2 682.4,858.2 700.4,857.1 830.3,856.9 830.3,897.4 698.4,897.4 556.4,898.1 355.5,898.1 225.5,897.4 92.6,897.4ZM92.6,916.4 830.3,916.4 830.3,950.6 92.6,950.6ZM92.6,967.6 830.3,967.6 830.3,998.2 92.6,998.2Z"/>
<path fill="#0050ff" fill-rule="evenodd" d="M307.5,843.5 307.7,841.5 309.5,839.1 312.5,836.9 316.5,835.1 328.5,831.7 345.5,829.0 366.5,827.0 392.7,825.5 423.5,824.8 461.5,824.6 499.4,824.8 530.5,825.5 557.4,827.1 578.4,829.1 595.4,831.9 607.4,835.4 611.7,837.5 614.2,839.5 615.5,841.5 615.7,843.5 615.1,845.5 613.4,847.5 610.4,849.5 605.4,851.8 593.4,855.0 576.4,857.6 556.4,859.5 529.4,860.9 496.4,861.8 461.5,862.1 426.5,861.8 393.5,860.9 366.5,859.4 346.5,857.6 329.5,854.9 317.5,851.7 312.8,849.5 309.9,847.5 308.1,845.5ZM92.6,860.9 218.5,861.0 241.5,862.5 270.5,866.6 298.5,868.3 354.5,869.3 461.5,870.0 570.4,869.3 625.4,868.3 652.7,866.6 681.4,862.6 705.3,861.0 830.3,860.9 830.3,896.4 698.4,896.4 556.4,897.3 355.5,897.2 225.5,896.4 92.6,896.4ZM92.6,917.2 830.3,917.2 830.3,949.8 92.6,949.8ZM92.6,969.0 830.3,969.0 830.3,997.5 92.6,997.5Z"/>
<path fill="#0060ff" fill-rule="evenodd" d="M309.2,843.5 309.5,841.5 310.8,839.5 313.5,837.5 317.6,835.5 323.5,833.7 330.5,832.0 347.5,829.3 370.5,827.2 397.5,825.8 425.5,825.1 461.5,824.9 498.4,825.1 526.4,825.8 553.4,827.3 576.4,829.4 592.4,831.9 599.4,833.6 605.4,835.5 609.7,837.5 612.4,839.5 613.7,841.5 614.0,843.5 613.4,845.5 611.6,847.5 608.5,849.5 603.9,851.6 592.4,854.6 575.4,857.3 555.4,859.1 529.4,860.5 497.4,861.4 461.5,861.7 425.5,861.4 393.5,860.5 367.5,859.1 347.5,857.2 331.5,854.8 319.3,851.6 314.7,849.5 311.6,847.5 309.8,845.5ZM92.6,864.9 214.6,864.9 225.5,865.3 250.5,867.0 306.5,869.0 391.5,870.0 461.5,870.3 531.4,870.0 616.4,869.0 672.4,867.0 708.3,864.9 830.3,864.9 830.3,895.4 698.4,895.4 556.4,896.4 355.5,896.4 224.5,895.4 92.6,895.4ZM92.6,917.9 830.3,917.9 830.3,949.0 92.6,949.0ZM92.6,970.8 830.3,970.8 830.3,996.7 92.6,996.7Z"/>
<path fill="#0070ff" fill-rule="evenodd" d="M310.9,843.5 311.2,841.5 312.7,839.5 315.5,837.5 320.0,835.5 332.5,832.2 347.5,829.9 369.5,827.8 397.5,826.2 422.5,825.5 461.5,825.2 500.4,825.5 525.4,826.2 553.4,827.8 575.4,829.8 591.4,832.4 603.2,835.5 607.7,837.5 610.5,839.5 612.0,841.5 612.4,843.5 611.7,845.5 609.8,847.5 606.6,849.5 601.7,851.6 590.0,854.6 574.4,856.9 554.4,858.8 528.4,860.2 496.4,861.1 461.5,861.4 426.5,861.1 395.5,860.2 369.5,858.8 349.5,857.0 333.2,854.6 321.5,851.6 316.6,849.5 313.4,847.5 311.5,845.5ZM92.6,868.3 277.5,868.5 297.5,869.2 333.5,869.8 461.5,870.7 589.4,869.8 626.4,869.2 645.4,868.5 830.3,868.3 830.3,894.3 698.4,894.3 556.4,895.5 355.5,895.5 224.5,894.3 92.6,894.3ZM92.6,918.7 830.3,918.7 830.3,948.2 92.6,948.2ZM92.6,973.4 830.3,973.4 830.3,996.0 92.6,996.0Z"/>
<path fill="#0080ff" fill-rule="evenodd" d="M312.6,843.5 312.9,841.5 314.5,839.5 317.5,837.5 321.5,835.8 333.5,832.7 349.5,830.2 370.5,828.2 395.5,826.8 426.5,825.8 461.5,825.5 496.4,825.8 527.4,826.8 552.4,828.2 573.4,830.1 589.4,832.6 601.4,835.7 605.7,837.5 608.7,839.5 610.3,841.5 610.6,843.5 609.9,845.5 608.0,847.5 604.7,849.5 600.4,851.3 588.4,854.3 572.4,856.7 552.4,858.5 525.4,859.9 494.4,860.8 461.5,861.0 428.5,860.8 397.5,859.9 370.5,858.5 350.5,856.7 335.5,854.4 323.5,851.5 318.5,849.5 315.2,847.5 313.3,845.5ZM92.6,870.6 215.6,870.6 278.5,869.3 313.5,870.0 442.5,871.2 527.4,870.9 616.4,870.0 645.4,869.3 707.3,870.6 830.3,870.6 830.3,893.2 699.4,893.3 556.4,894.7 354.5,894.7 224.5,893.3 92.6,893.2ZM92.6,919.4 830.3,919.4 830.3,947.4 92.6,947.4ZM92.6,977.6 830.3,977.6 830.3,995.2 92.6,995.2Z"/>
<path fill="#008fff" fill-rule="evenodd" d="M314.3,843.5 314.7,841.5 316.4,839.5 319.6,837.5 323.5,835.9 335.5,832.9 351.5,830.5 373.5,828.4 398.5,827.1 428.5,826.2 461.5,825.9 494.4,826.2 524.4,827.0 549.4,828.4 571.4,830.4 587.4,832.8 599.4,835.8 603.6,837.5 606.8,839.5 608.5,841.5 608.9,843.5 608.2,845.5 606.2,847.5 602.7,849.5 599.4,850.9 587.4,854.0 571.4,856.4 551.4,858.2 524.4,859.6 494.4,860.4 461.5,860.7 427.5,860.4 398.5,859.6 371.5,858.2 351.5,856.3 335.5,853.9 324.5,851.1 320.5,849.5 317.0,847.5 315.0,845.5ZM92.6,872.4 218.5,872.3 278.5,870.2 461.5,871.6 644.4,870.2 704.4,872.3 830.3,872.4 830.3,892.2 698.4,892.2 556.4,893.8 354.5,893.8 224.5,892.2 92.6,892.2ZM92.6,920.1 830.3,920.1 830.3,946.6 92.6,946.6ZM92.6,982.5 830.3,982.5 830.3,994.3 92.6,994.3Z"/>
<path fill="#009fff" fill-rule="evenodd" d="M316.0,843.5 316.5,841.5 318.3,839.5 321.5,837.6 324.5,836.4 336.5,833.3 352.5,830.8 373.5,828.9 399.5,827.4 428.5,826.6 461.5,826.3 494.4,826.6 523.4,827.4 549.4,828.8 570.4,830.8 586.4,833.2 598.4,836.3 601.5,837.5 604.9,839.5 606.7,841.5 607.2,843.5 606.4,845.5 604.3,847.5 600.7,849.5 597.4,850.8 585.4,853.8 569.4,856.2 549.4,857.9 524.4,859.3 494.4,860.1 461.5,860.4 428.5,860.1 398.5,859.3 373.5,857.9 353.5,856.1 336.5,853.6 325.5,850.7 318.9,847.5 316.8,845.5ZM92.6,873.5 218.5,873.4 247.5,872.8 278.5,871.3 322.5,871.3 461.5,872.1 580.4,871.4 644.4,871.3 675.4,872.7 703.4,873.4 830.3,873.5 830.3,891.1 699.4,891.1 602.4,892.7 556.4,893.0 354.5,893.0 224.5,891.1 92.6,891.1ZM92.6,920.9 830.3,920.9 830.3,945.6 92.6,945.6Z"/>
<path fill="#00afff" fill-rule="evenodd" d="M317.8,843.5 318.3,841.5 320.2,839.5 326.4,836.5 337.5,833.7 354.5,831.1 374.5,829.2 399.5,827.8 429.5,826.9 461.5,826.6 493.4,826.9 523.4,827.8 548.4,829.2 568.4,831.1 585.4,833.6 596.8,836.5 603.0,839.5 604.9,841.5 605.4,843.5 604.7,845.5 602.5,847.5 596.0,850.5 584.1,853.6 568.4,855.9 547.4,857.7 522.4,859.0 493.4,859.8 461.5,860.1 429.5,859.8 400.5,859.0 375.5,857.7 354.5,855.8 339.1,853.6 327.2,850.5 320.7,847.5 318.5,845.5ZM92.6,874.5 219.5,874.5 243.5,873.9 278.5,872.5 338.5,872.0 460.5,872.6 600.4,872.0 644.4,872.5 679.4,873.9 703.4,874.5 830.3,874.5 830.3,889.8 702.4,889.9 606.4,891.7 556.4,892.1 353.5,892.1 221.5,889.9 92.6,889.8ZM92.6,921.6 830.3,921.6 830.3,944.5 92.6,944.5Z"/>
<path fill="#00bfff" fill-rule="evenodd" d="M319.6,843.5 320.1,841.5 322.1,839.5 328.6,836.5 339.5,833.9 356.5,831.3 377.5,829.4 401.5,828.1 430.5,827.3 461.5,827.0 492.4,827.3 521.4,828.1 545.4,829.4 566.4,831.3 583.4,833.8 594.6,836.5 601.1,839.5 603.1,841.5 603.6,843.5 602.9,845.5 600.6,847.5 593.9,850.5 582.4,853.3 567.3,855.6 547.4,857.3 521.4,858.7 493.4,859.5 461.5,859.8 429.5,859.5 401.5,858.7 376.5,857.4 356.5,855.6 341.5,853.5 329.3,850.5 322.6,847.5 320.3,845.5ZM92.6,875.6 221.5,875.5 244.5,874.9 278.5,873.4 345.5,872.6 459.5,873.2 591.4,872.6 644.4,873.4 679.4,875.0 701.4,875.5 830.3,875.6 830.3,887.9 705.3,887.9 621.4,890.5 556.4,891.3 348.5,891.2 291.5,890.3 218.5,887.9 92.6,887.9ZM92.6,922.4 830.3,922.4 830.3,943.5 92.6,943.5Z"/>
<path fill="#00cfff" fill-rule="evenodd" d="M321.3,843.5 321.9,841.5 324.1,839.5 331.0,836.5 341.5,834.0 357.5,831.7 377.5,829.8 402.5,828.5 430.5,827.6 461.5,827.3 492.4,827.6 520.4,828.5 545.4,829.8 565.4,831.7 581.4,834.0 592.2,836.5 599.1,839.5 601.3,841.5 601.9,843.5 601.1,845.5 598.7,847.5 591.7,850.5 580.4,853.2 565.4,855.4 545.4,857.1 521.4,858.4 492.4,859.2 461.5,859.5 430.5,859.2 401.5,858.4 377.5,857.1 357.5,855.3 342.5,853.1 331.5,850.5 324.5,847.5 322.1,845.5ZM92.6,877.0 217.6,877.0 248.5,876.0 278.5,874.4 335.5,873.3 458.5,873.8 596.4,873.4 644.4,874.4 675.4,876.0 706.3,877.0 830.3,877.0 830.3,885.7 702.4,885.8 683.4,886.4 632.4,889.2 576.4,890.4 340.5,890.3 288.5,889.1 240.5,886.5 221.5,885.8 92.6,885.7ZM92.6,923.7 830.3,923.7 830.3,942.4 92.6,942.4Z"/>
<path fill="#00dfff" fill-rule="evenodd" d="M323.2,843.5 323.8,841.5 325.5,840.0 327.9,838.5 332.5,836.8 343.5,834.2 359.5,831.9 379.5,830.1 402.5,828.8 430.5,828.0 461.5,827.7 492.4,828.0 520.4,828.8 544.4,830.1 563.4,831.9 579.4,834.2 590.4,836.7 597.1,839.5 599.4,841.5 600.0,843.5 599.2,845.5 597.4,847.1 594.9,848.5 590.4,850.2 579.4,852.9 564.4,855.1 544.4,856.8 520.4,858.1 491.4,858.9 461.5,859.2 430.5,858.9 402.5,858.1 378.5,856.8 358.5,855.0 343.5,852.8 332.5,850.1 328.3,848.5 325.5,846.9 324.0,845.5ZM92.6,880.6 219.5,880.5 236.5,879.6 265.4,876.6 306.1,874.6 331.5,874.0 467.4,874.4 575.4,873.9 617.1,874.6 657.8,876.6 687.4,879.6 704.4,880.5 830.3,880.6 830.3,883.6 698.4,883.7 672.4,884.8 635.8,887.6 619.4,888.4 579.4,889.4 359.5,889.6 306.5,888.6 287.4,887.6 250.5,884.8 224.5,883.7 92.6,883.6ZM92.6,925.5 830.3,925.5 830.3,941.3 92.6,941.3Z"/>
<path fill="#00efff" fill-rule="evenodd" d="M325.0,843.5 325.7,841.5 327.5,839.9 330.0,838.5 334.5,836.9 345.5,834.4 361.5,832.1 381.5,830.4 404.5,829.1 432.5,828.3 461.5,828.0 490.4,828.3 518.4,829.1 541.4,830.3 561.4,832.1 577.4,834.3 588.4,836.8 595.4,839.7 597.5,841.5 598.2,843.5 597.4,845.5 595.4,847.2 592.9,848.5 588.4,850.2 577.4,852.7 562.4,854.9 542.4,856.6 518.4,857.8 490.4,858.6 461.5,858.9 432.5,858.6 404.5,857.8 380.5,856.6 360.5,854.8 344.7,852.6 334.5,850.1 330.3,848.5 326.9,846.5 325.8,845.5ZM254.0,882.6 255.6,881.6 284.9,877.6 296.9,876.6 336.5,874.9 358.5,874.7 469.4,875.4 567.4,874.6 595.4,875.2 626.3,876.6 645.4,878.3 667.6,881.6 669.2,882.6 607.6,887.6 580.4,888.5 556.4,888.7 345.5,888.6 315.6,887.6ZM92.6,927.2 830.3,927.2 830.3,939.8 92.6,939.8Z"/>
<path fill="#00ffff" fill-rule="evenodd" d="M326.8,843.5 327.5,841.6 328.6,840.5 332.1,838.5 335.5,837.3 347.5,834.5 363.5,832.3 382.5,830.7 406.5,829.4 432.5,828.6 461.5,828.4 491.4,828.6 517.4,829.4 541.4,830.7 560.4,832.4 575.7,834.5 587.4,837.2 591.1,838.5 594.6,840.5 595.6,841.5 596.4,843.5 595.5,845.5 594.4,846.5 590.8,848.5 587.4,849.8 575.8,852.6 561.4,854.6 542.4,856.2 518.4,857.5 491.4,858.3 461.5,858.6 431.5,858.3 404.5,857.5 380.5,856.2 361.6,854.6 347.4,852.6 335.5,849.7 332.4,848.5 328.8,846.5 327.7,845.5ZM284.9,881.6 294.5,880.0 312.5,878.1 329.5,877.0 346.5,876.4 465.4,877.1 565.4,876.3 583.4,876.6 603.5,877.6 625.3,879.6 638.3,881.6 636.3,882.6 586.8,886.6 566.4,887.4 366.5,887.5 348.5,887.1 329.5,886.1 286.9,882.6ZM92.6,929.5 830.3,929.5 830.3,936.8 92.6,936.8Z"/>
<path fill="#10ffef" fill-rule="evenodd" d="M328.7,843.5 329.5,841.5 330.6,840.5 333.5,838.9 337.1,837.5 348.5,834.9 363.5,832.8 382.5,831.1 405.5,829.8 432.5,829.0 461.5,828.7 490.4,829.0 517.4,829.8 540.4,831.0 559.4,832.7 575.4,835.0 586.1,837.5 589.4,838.8 592.6,840.5 593.7,841.5 594.5,843.5 593.6,845.5 592.5,846.5 586.0,849.5 574.4,852.3 559.4,854.4 540.4,856.0 517.4,857.2 490.4,858.0 461.5,858.3 432.5,858.0 405.5,857.2 382.5,856.0 363.5,854.4 348.5,852.2 337.2,849.5 330.7,846.5 329.6,845.5ZM315.0,881.6 320.0,880.6 331.6,879.6 356.5,878.6 462.4,879.1 561.4,878.6 591.4,879.6 603.2,880.6 608.2,881.6 602.4,882.6 588.4,883.6 557.4,884.6 360.5,884.6 332.5,883.4 320.8,882.6Z"/>
<path fill="#20ffdf" fill-rule="evenodd" d="M330.6,843.5 331.4,841.5 332.6,840.5 335.5,839.0 339.4,837.5 350.5,835.0 365.5,833.0 384.5,831.3 407.5,830.0 433.5,829.3 461.5,829.0 489.4,829.3 515.4,830.0 538.4,831.3 557.4,832.9 573.4,835.2 583.8,837.5 587.4,838.8 590.6,840.5 591.8,841.5 592.6,843.5 591.7,845.5 590.6,846.5 587.4,848.2 583.8,849.5 573.4,852.0 558.4,854.1 539.4,855.8 516.4,857.0 489.4,857.7 461.5,858.0 433.5,857.7 406.5,857.0 383.5,855.7 364.5,854.1 350.5,852.1 339.4,849.5 335.5,848.1 332.6,846.5 331.5,845.5Z"/>
<path fill="#30ffcf" fill-rule="evenodd" d="M332.5,843.5 333.4,841.5 334.6,840.5 337.5,839.0 341.7,837.5 351.5,835.4 366.5,833.3 385.5,831.6 408.5,830.3 433.5,829.6 461.5,829.3 489.4,829.6 514.4,830.3 537.4,831.6 556.4,833.3 571.4,835.3 581.5,837.5 585.4,838.9 588.6,840.5 589.8,841.5 590.7,843.5 589.8,845.5 588.6,846.5 585.4,848.2 581.5,849.5 571.4,851.9 557.4,853.8 538.4,855.5 515.4,856.7 489.4,857.5 461.5,857.7 433.5,857.4 407.5,856.7 385.5,855.5 366.5,853.9 352.5,852.0 341.7,849.5 337.5,848.1 334.6,846.5 333.4,845.5Z"/>
<path fill="#40ffbf" fill-rule="evenodd" d="M334.4,843.5 335.4,841.5 336.6,840.5 340.5,838.7 344.1,837.5 353.5,835.5 368.5,833.5 386.5,831.9 408.5,830.7 433.5,829.9 461.5,829.6 489.4,829.9 514.4,830.7 536.4,831.9 554.4,833.4 569.4,835.5 579.1,837.5 583.4,839.0 586.6,840.5 587.8,841.5 588.8,843.5 587.8,845.5 586.6,846.5 583.4,848.1 579.3,849.5 569.4,851.7 555.4,853.7 536.4,855.3 514.4,856.4 489.4,857.2 461.5,857.4 433.5,857.2 408.5,856.4 386.5,855.3 367.5,853.6 353.5,851.7 343.9,849.5 339.5,848.0 336.6,846.5 335.4,845.5Z"/>
<path fill="#50ffaf" fill-rule="evenodd" d="M336.4,843.5 337.4,841.5 338.7,840.5 345.5,837.8 356.2,835.5 369.5,833.8 388.5,832.1 409.5,831.0 434.5,830.2 461.5,829.9 488.4,830.2 513.4,830.9 534.4,832.1 553.4,833.7 567.4,835.6 578.4,838.0 584.5,840.5 585.8,841.5 586.8,843.5 585.9,845.5 584.6,846.5 577.4,849.4 567.7,851.6 553.4,853.5 535.4,855.0 513.4,856.2 488.4,856.9 461.5,857.1 434.5,856.9 409.5,856.2 387.5,855.0 369.5,853.5 355.5,851.6 345.5,849.3 338.6,846.5 337.3,845.5Z"/>
<path fill="#60ff9f" fill-rule="evenodd" d="M338.4,843.5 339.4,841.5 340.8,840.5 346.5,838.2 357.5,835.8 371.5,834.0 390.5,832.3 411.5,831.2 461.5,830.2 487.4,830.5 512.4,831.2 533.4,832.4 552.4,834.0 567.4,836.1 577.4,838.5 582.4,840.5 583.8,841.5 584.8,843.5 583.8,845.5 582.5,846.5 576.4,849.0 565.4,851.5 552.4,853.2 534.4,854.8 512.4,855.9 461.5,856.9 410.5,855.9 389.5,854.8 371.5,853.3 358.3,851.6 347.5,849.2 340.7,846.5 339.4,845.5Z"/>
<path fill="#70ff8f" fill-rule="evenodd" d="M340.4,843.5 341.5,841.5 342.9,840.5 347.8,838.5 357.5,836.3 372.5,834.2 390.5,832.7 412.5,831.5 461.5,830.6 510.4,831.5 532.4,832.7 550.4,834.2 565.4,836.3 575.4,838.5 580.3,840.5 581.7,841.5 582.8,843.5 581.8,845.5 580.4,846.5 575.4,848.6 565.4,851.0 550.4,853.0 532.5,854.6 511.4,855.7 461.5,856.6 411.5,855.6 390.5,854.5 372.5,853.0 357.5,850.9 347.5,848.5 342.8,846.5 341.4,845.5Z"/>
<path fill="#80ff80" fill-rule="evenodd" d="M342.4,843.5 343.5,841.6 345.1,840.5 350.2,838.5 359.0,836.5 373.5,834.5 391.5,833.0 412.5,831.8 436.5,831.1 461.5,830.9 486.4,831.1 510.4,831.8 531.4,832.9 549.4,834.5 564.2,836.5 573.0,838.5 578.1,840.5 579.6,841.5 580.5,842.5 580.8,843.5 580.6,844.5 579.8,845.5 578.3,846.5 573.4,848.5 564.4,850.7 549.4,852.8 532.4,854.2 511.4,855.4 487.4,856.1 461.5,856.3 435.5,856.1 411.5,855.3 390.5,854.2 373.5,852.7 359.5,850.8 349.8,848.5 344.9,846.5 343.4,845.5 342.6,844.5Z"/>
<path fill="#8fff70" fill-rule="evenodd" d="M344.4,843.5 345.5,841.7 347.2,840.5 352.6,838.5 361.9,836.5 376.5,834.6 393.5,833.2 414.5,832.0 461.5,831.1 508.4,832.0 528.4,833.1 546.4,834.6 561.3,836.5 570.6,838.5 576.0,840.5 577.5,841.5 578.4,842.5 578.8,843.5 578.5,844.5 577.7,845.5 576.2,846.5 571.1,848.5 562.3,850.5 547.8,852.6 530.4,854.0 510.4,855.1 461.5,856.0 413.5,855.1 392.5,854.0 375.4,852.6 360.9,850.5 352.1,848.5 347.0,846.5 345.5,845.5 344.7,844.5Z"/>
<path fill="#9fff60" fill-rule="evenodd" d="M346.5,843.5 346.9,842.5 347.8,841.5 349.5,840.5 355.1,838.5 364.8,836.5 378.5,834.8 395.5,833.4 415.5,832.3 461.5,831.4 507.4,832.3 528.4,833.4 545.4,834.9 558.4,836.5 568.1,838.5 573.7,840.5 575.4,841.6 576.3,842.5 576.7,843.5 576.4,844.5 575.5,845.5 574.0,846.5 568.7,848.5 559.5,850.5 545.4,852.4 528.4,853.8 508.4,854.9 461.5,855.8 415.5,854.9 395.5,853.9 378.5,852.5 363.7,850.5 354.5,848.5 349.2,846.5 347.7,845.5 346.8,844.5Z"/>
<path fill="#afff50" fill-rule="evenodd" d="M348.7,843.5 349.0,842.5 350.0,841.5 351.7,840.5 357.6,838.5 367.8,836.5 379.5,835.1 396.5,833.6 415.5,832.6 461.5,831.7 507.4,832.6 526.4,833.6 543.4,835.0 555.4,836.5 565.6,838.5 571.5,840.5 573.4,841.7 574.5,843.5 574.3,844.5 573.4,845.5 571.8,846.5 566.2,848.5 556.6,850.5 543.4,852.2 527.4,853.6 507.4,854.6 461.5,855.5 415.5,854.6 395.5,853.6 379.5,852.2 366.6,850.5 357.0,848.5 351.4,846.5 349.8,845.5 348.9,844.5Z"/>
<path fill="#bfff40" fill-rule="evenodd" d="M350.8,843.5 351.2,842.5 353.5,840.8 359.5,838.7 369.5,836.8 380.5,835.4 396.5,834.0 416.5,832.9 461.5,832.0 506.4,832.9 526.4,834.0 542.4,835.3 553.4,836.7 563.4,838.6 569.4,840.7 572.0,842.5 572.4,843.5 572.1,844.5 571.2,845.5 569.5,846.5 563.8,848.5 553.6,850.5 542.4,852.0 525.4,853.4 506.4,854.4 461.5,855.2 416.5,854.4 397.5,853.4 380.5,851.9 369.6,850.5 359.4,848.5 353.7,846.5 352.0,845.5 351.1,844.5Z"/>
<path fill="#cfff30" fill-rule="evenodd" d="M353.0,843.5 353.4,842.5 354.5,841.5 360.5,839.2 368.5,837.4 382.4,835.5 398.5,834.2 417.5,833.2 461.5,832.3 505.4,833.2 524.4,834.2 540.8,835.5 554.4,837.4 562.4,839.1 568.7,841.5 569.8,842.5 570.2,843.5 569.9,844.5 569.0,845.5 567.3,846.5 562.4,848.2 553.4,850.1 541.4,851.7 525.4,853.1 506.4,854.1 461.5,854.9 416.5,854.1 397.5,853.0 381.5,851.7 369.5,850.0 360.5,848.1 355.9,846.5 354.2,845.5 353.3,844.5Z"/>
<path fill="#dfff20" fill-rule="evenodd" d="M355.2,843.5 355.6,842.5 356.8,841.5 362.5,839.3 370.6,837.5 385.5,835.6 419.5,833.4 461.5,832.6 503.4,833.4 537.4,835.6 551.4,837.4 560.4,839.2 566.4,841.5 567.6,842.5 568.0,843.5 567.7,844.5 566.7,845.5 564.9,846.5 560.4,848.1 552.4,849.8 539.1,851.6 523.4,852.9 504.4,853.9 461.5,854.7 418.5,853.8 399.5,852.8 384.1,851.6 370.5,849.7 362.5,848.0 358.3,846.5 356.5,845.5 355.5,844.5Z"/>
<path fill="#efff10" fill-rule="evenodd" d="M357.5,843.5 357.9,842.5 359.1,841.5 364.2,839.5 373.6,837.5 386.5,835.9 402.5,834.6 420.5,833.7 461.5,832.9 502.4,833.7 520.4,834.6 536.4,835.9 549.6,837.5 559.0,839.5 564.1,841.5 565.3,842.5 565.7,843.5 565.4,844.5 564.4,845.5 559.4,847.6 550.9,849.5 536.4,851.4 503.4,853.6 461.5,854.4 419.5,853.6 386.5,851.4 372.5,849.6 364.5,847.8 358.8,845.5 357.8,844.5Z"/>
<path fill="#ffff00" fill-rule="evenodd" d="M359.8,843.5 360.2,842.5 361.5,841.5 366.8,839.5 376.7,837.5 388.5,836.1 421.5,833.9 461.5,833.2 502.4,834.0 520.4,834.9 535.4,836.2 546.5,837.5 556.4,839.5 561.7,841.5 563.0,842.5 563.4,843.5 563.1,844.5 562.0,845.5 557.2,847.5 547.9,849.5 535.4,851.1 519.4,852.5 502.4,853.3 461.5,854.1 420.5,853.3 403.5,852.4 387.5,851.1 375.3,849.5 366.0,847.5 361.2,845.5 360.1,844.5Z"/>
<path fill="#ffef00" fill-rule="evenodd" d="M362.1,843.5 362.6,842.5 363.9,841.5 369.5,839.5 379.5,837.6 389.5,836.4 421.5,834.3 461.5,833.5 502.4,834.3 534.4,836.5 544.4,837.7 553.7,839.5 559.3,841.5 560.6,842.5 561.1,843.5 560.8,844.5 559.6,845.5 554.6,847.5 544.8,849.5 534.4,850.9 502.4,853.0 461.5,853.8 420.5,853.0 403.5,852.1 388.5,850.8 378.4,849.5 368.6,847.5 363.6,845.5 362.4,844.5Z"/>
<path fill="#ffdf00" fill-rule="evenodd" d="M364.5,843.5 365.0,842.5 366.4,841.5 372.2,839.5 381.5,837.8 391.8,836.5 422.5,834.5 461.5,833.8 500.4,834.5 531.4,836.5 542.4,837.9 551.0,839.5 556.8,841.5 558.2,842.5 558.7,843.5 558.3,844.5 557.2,845.5 551.9,847.5 543.4,849.3 533.4,850.6 502.4,852.7 461.5,853.5 420.5,852.7 389.5,850.5 379.5,849.2 371.3,847.5 366.0,845.5 364.9,844.5Z"/>
<path fill="#ffcf00" fill-rule="evenodd" d="M367.0,843.5 367.5,842.5 369.0,841.5 375.0,839.5 383.5,838.0 394.5,836.7 424.5,834.8 461.5,834.1 497.4,834.7 528.4,836.6 539.4,838.0 548.2,839.5 554.2,841.5 555.7,842.5 556.2,843.5 555.9,844.5 554.7,845.5 549.1,847.5 540.4,849.2 529.8,850.5 499.3,852.6 461.5,853.3 423.9,852.6 393.4,850.5 383.5,849.3 374.1,847.5 368.5,845.5 367.3,844.5Z"/>
<path fill="#ffbf00" fill-rule="evenodd" d="M369.5,843.5 370.0,842.5 371.6,841.5 377.9,839.5 395.5,837.0 424.5,835.1 461.5,834.4 497.4,835.0 527.4,837.0 545.3,839.5 551.6,841.5 553.2,842.5 553.7,843.5 553.4,844.5 552.1,845.5 546.3,847.5 537.4,849.2 527.4,850.4 497.4,852.3 461.5,853.0 426.5,852.3 396.5,850.5 385.5,849.1 376.9,847.5 371.1,845.5 369.8,844.5Z"/>
<path fill="#ffaf00" fill-rule="evenodd" d="M372.1,843.5 372.6,842.5 374.2,841.5 379.5,839.9 386.5,838.5 397.5,837.2 425.5,835.4 461.5,834.7 497.4,835.3 526.4,837.3 536.7,838.5 544.4,840.1 549.0,841.5 550.6,842.5 551.1,843.5 550.8,844.5 549.5,845.5 543.4,847.5 526.4,850.1 497.4,852.0 461.5,852.7 425.5,852.0 396.5,850.0 385.5,848.6 379.5,847.5 373.8,845.5 372.4,844.5Z"/>
<path fill="#ff9f00" fill-rule="evenodd" d="M374.7,843.5 375.3,842.5 377.0,841.5 379.8,840.5 388.5,838.8 398.1,837.5 427.5,835.6 461.5,835.0 495.4,835.6 525.1,837.5 534.4,838.7 543.4,840.5 546.4,841.7 547.9,842.5 548.5,843.5 548.1,844.5 546.7,845.5 543.4,846.8 535.0,848.5 525.4,849.8 497.4,851.7 461.5,852.4 425.5,851.7 397.5,849.7 388.2,848.5 379.5,846.7 376.5,845.5 375.1,844.5Z"/>
<path fill="#ff8f00" fill-rule="evenodd" d="M377.4,843.5 378.1,842.5 379.8,841.5 382.8,840.5 391.5,838.9 402.3,837.5 429.5,835.8 461.5,835.3 493.4,835.8 520.9,837.5 531.4,838.8 540.4,840.5 543.4,841.6 545.1,842.5 545.8,843.5 545.4,844.5 544.0,845.5 541.3,846.5 533.4,848.2 523.5,849.5 494.4,851.5 461.5,852.1 428.5,851.5 399.7,849.5 390.5,848.3 381.9,846.5 379.2,845.5 377.8,844.5Z"/>
<path fill="#ff8000" fill-rule="evenodd" d="M380.2,843.5 380.9,842.5 382.5,841.7 385.9,840.5 393.5,839.1 404.5,837.8 430.5,836.1 461.5,835.6 492.4,836.1 518.4,837.7 529.4,839.0 537.3,840.5 540.5,841.5 542.3,842.5 543.0,843.5 542.6,844.5 541.1,845.5 538.3,846.5 529.4,848.3 519.2,849.5 492.4,851.2 461.5,851.8 430.5,851.2 404.0,849.5 393.5,848.3 384.9,846.5 382.1,845.5 380.6,844.5Z"/>
<path fill="#ff7000" fill-rule="evenodd" d="M383.1,843.5 383.8,842.5 385.5,841.7 389.1,840.5 394.5,839.5 405.5,838.1 429.5,836.5 461.5,835.9 493.4,836.5 517.4,838.1 528.4,839.4 534.1,840.5 537.5,841.5 539.4,842.5 540.1,843.5 539.7,844.5 538.1,845.5 535.2,846.5 527.4,848.1 517.4,849.3 492.4,850.9 461.5,851.5 430.5,850.9 405.5,849.3 395.5,848.0 388.0,846.5 385.1,845.5 383.5,844.5Z"/>
<path fill="#ff6000" fill-rule="evenodd" d="M386.0,843.5 386.8,842.5 388.9,841.5 392.4,840.5 406.5,838.5 431.5,836.8 461.5,836.2 491.4,836.8 516.4,838.4 530.8,840.5 534.4,841.6 536.4,842.5 537.2,843.5 536.7,844.5 535.0,845.5 531.9,846.5 527.1,847.5 516.4,848.9 492.6,850.5 461.5,851.2 430.6,850.5 406.5,848.9 396.1,847.5 391.3,846.5 388.2,845.5 386.5,844.5Z"/>
<path fill="#ff5000" fill-rule="evenodd" d="M389.1,843.5 389.9,842.5 392.1,841.5 395.9,840.5 410.2,838.5 433.5,837.1 461.5,836.5 489.4,837.1 513.0,838.5 527.3,840.5 531.1,841.5 533.3,842.5 534.1,843.5 533.6,844.5 531.8,845.5 528.5,846.5 515.4,848.6 490.4,850.3 461.5,850.8 432.5,850.3 407.5,848.6 394.7,846.5 391.4,845.5 389.6,844.5Z"/>
<path fill="#ff4000" fill-rule="evenodd" d="M392.3,843.5 393.2,842.5 395.5,841.6 399.6,840.5 414.5,838.6 435.5,837.4 461.5,836.9 487.4,837.3 508.4,838.6 523.6,840.5 527.7,841.5 530.0,842.5 530.9,843.5 530.4,844.5 528.5,845.5 524.9,846.5 511.1,848.5 488.4,850.0 461.5,850.5 434.5,850.0 412.1,848.5 398.3,846.5 394.7,845.5 392.8,844.5Z"/>
<path fill="#ff3000" fill-rule="evenodd" d="M395.7,843.5 396.6,842.5 401.5,841.0 415.5,839.0 437.5,837.7 461.5,837.2 486.4,837.7 508.4,839.1 522.4,841.1 526.6,842.5 527.5,843.5 527.0,844.5 525.0,845.5 521.2,846.5 507.4,848.4 487.4,849.7 461.5,850.1 435.5,849.6 415.5,848.4 402.0,846.5 398.2,845.5 396.2,844.5Z"/>
<path fill="#ff2000" fill-rule="evenodd" d="M399.2,843.5 400.2,842.5 402.9,841.5 415.5,839.5 436.5,838.1 461.5,837.6 486.4,838.1 507.4,839.5 520.3,841.5 523.0,842.5 524.0,843.5 523.5,844.5 521.3,845.5 517.2,846.5 507.4,847.9 486.4,849.3 461.5,849.8 437.5,849.3 416.5,848.0 406.5,846.6 402.5,845.7 399.7,844.5Z"/>
<path fill="#ff1000" fill-rule="evenodd" d="M402.9,843.5 404.0,842.5 406.9,841.5 420.5,839.5 438.5,838.4 461.5,838.0 484.4,838.4 502.7,839.5 516.3,841.5 519.2,842.5 520.3,843.5 519.7,844.5 517.4,845.5 505.6,847.5 486.4,848.9 461.5,849.4 436.5,848.9 417.6,847.5 405.8,845.5 403.5,844.5Z"/>
<path fill="#ff0000" fill-rule="evenodd" d="M406.8,843.5 408.0,842.5 411.2,841.5 424.5,839.7 442.5,838.7 461.5,838.4 480.4,838.7 498.4,839.7 512.0,841.5 515.2,842.5 516.4,843.5 515.7,844.5 513.2,845.5 508.2,846.5 499.9,847.5 483.4,848.6 461.5,849.0 439.5,848.6 423.3,847.5 415.0,846.5 410.0,845.5 407.5,844.5Z"/>
<path fill="#ef0000" fill-rule="evenodd" d="M411.1,843.5 412.4,842.5 415.9,841.5 425.5,840.3 441.5,839.2 461.5,838.8 481.4,839.2 497.4,840.2 507.3,841.5 510.8,842.5 512.1,843.5 511.4,844.5 508.6,845.5 497.4,847.2 480.4,848.2 461.5,848.6 442.5,848.2 425.5,847.1 414.6,845.5 411.8,844.5Z"/>
<path fill="#df0000" fill-rule="evenodd" d="M415.7,843.5 417.1,842.5 421.2,841.5 428.8,840.5 444.9,839.5 461.5,839.3 478.3,839.5 494.4,840.5 502.0,841.5 506.1,842.5 507.5,843.5 506.7,844.5 503.6,845.5 496.4,846.6 481.4,847.7 461.5,848.1 441.5,847.7 426.5,846.6 419.6,845.5 416.5,844.5Z"/>
<path fill="#cf0000" fill-rule="evenodd" d="M420.8,843.5 422.4,842.5 425.5,841.9 434.5,840.8 447.5,840.0 461.5,839.8 475.4,840.0 488.4,840.7 496.4,841.6 500.8,842.5 502.4,843.5 501.5,844.5 497.9,845.5 490.1,846.5 475.4,847.4 461.5,847.6 447.5,847.4 433.1,846.5 425.3,845.5 421.7,844.5Z"/>
<path fill="#bf0000" fill-rule="evenodd" d="M426.6,843.5 428.6,842.5 435.5,841.4 448.9,840.5 461.5,840.3 474.4,840.5 487.4,841.4 494.6,842.5 496.6,843.5 495.6,844.5 491.1,845.5 476.4,846.7 461.5,847.0 446.5,846.7 432.1,845.5 427.6,844.5Z"/>
<path fill="#af0000" fill-rule="evenodd" d="M433.6,843.5 436.1,842.5 444.4,841.5 461.5,841.0 478.7,841.5 487.1,842.5 489.6,843.5 488.3,844.5 482.3,845.5 461.5,846.4 440.9,845.5 434.9,844.5Z"/>
<path fill="#9f0000" fill-rule="evenodd" d="M442.9,843.5 447.1,842.5 461.5,842.0 476.1,842.5 480.3,843.5 478.2,844.5 461.5,845.5 445.0,844.5Z"/>
<path d="M95,824.3H828" stroke="#e8e8ff" stroke-width="1.8"/>
<path d="M278.1,824.3V869.6" stroke="#d8e4ff" stroke-width="1.8"/>
<path d="M644.6,824.3V869.6" stroke="#5070ff" stroke-opacity="0.45" stroke-width="1"/>
<path d="M95,1226.3H828M95,1347.4H828M95,1361.2H828" stroke="#000050" stroke-opacity="0.45" stroke-width="1.6"/>
<path d="M95,1149.8H828" stroke="#e4e4fa" stroke-width="1.8"/>
<path d="M95,1164H828" stroke="#dcdcf8" stroke-width="1.6"/>
<path d="M95,1188.7H828" stroke="#b4b4e6" stroke-width="1.3"/>
<path d="M95,1202.5H828" stroke="#7878d2" stroke-width="1.2"/>
</g>
<linearGradient id="cb841" x1="0" y1="0" x2="0" y2="1">
<stop offset="0.0078" stop-color="#800000"/>
<stop offset="0.0234" stop-color="#8f0000"/>
<stop offset="0.0391" stop-color="#9f0000"/>
<stop offset="0.0547" stop-color="#af0000"/>
<stop offset="0.0703" stop-color="#bf0000"/>
<stop offset="0.0859" stop-color="#cf0000"/>
<stop offset="0.1016" stop-color="#df0000"/>
<stop offset="0.1172" stop-color="#ef0000"/>
<stop offset="0.1328" stop-color="#ff0000"/>
<stop offset="0.1484" stop-color="#ff1000"/>
<stop offset="0.1641" stop-color="#ff2000"/>
<stop offset="0.1797" stop-color="#ff3000"/>
<stop offset="0.1953" stop-color="#ff4000"/>
<stop offset="0.2109" stop-color="#ff5000"/>
<stop offset="0.2266" stop-color="#ff6000"/>
<stop offset="0.2422" stop-color="#ff7000"/>
<stop offset="0.2578" stop-color="#ff8000"/>
<stop offset="0.2734" stop-color="#ff8f00"/>
<stop offset="0.2891" stop-color="#ff9f00"/>
<stop offset="0.3047" stop-color="#ffaf00"/>
<stop offset="0.3203" stop-color="#ffbf00"/>
<stop offset="0.3359" stop-color="#ffcf00"/>
<stop offset="0.3516" stop-color="#ffdf00"/>
<stop offset="0.3672" stop-color="#ffef00"/>
<stop offset="0.3828" stop-color="#ffff00"/>
<stop offset="0.3984" stop-color="#efff10"/>
<stop offset="0.4141" stop-color="#dfff20"/>
<stop offset="0.4297" stop-color="#cfff30"/>
<stop offset="0.4453" stop-color="#bfff40"/>
<stop offset="0.4609" stop-color="#afff50"/>
<stop offset="0.4766" stop-color="#9fff60"/>
<stop offset="0.4922" stop-color="#8fff70"/>
<stop offset="0.5078" stop-color="#80ff80"/>
<stop offset="0.5234" stop-color="#70ff8f"/>
<stop offset="0.5391" stop-color="#60ff9f"/>
<stop offset="0.5547" stop-color="#50ffaf"/>
<stop offset="0.5703" stop-color="#40ffbf"/>
<stop offset="0.5859" stop-color="#30ffcf"/>
<stop offset="0.6016" stop-color="#20ffdf"/>
<stop offset="0.6172" stop-color="#10ffef"/>
<stop offset="0.6328" stop-color="#00ffff"/>
<stop offset="0.6484" stop-color="#00efff"/>
<stop offset="0.6641" stop-color="#00dfff"/>
<stop offset="0.6797" stop-color="#00cfff"/>
<stop offset="0.6953" stop-color="#00bfff"/>
<stop offset="0.7109" stop-color="#00afff"/>
<stop offset="0.7266" stop-color="#009fff"/>
<stop offset="0.7422" stop-color="#008fff"/>
<stop offset="0.7578" stop-color="#0080ff"/>
<stop offset="0.7734" stop-color="#0070ff"/>
<stop offset="0.7891" stop-color="#0060ff"/>
<stop offset="0.8047" stop-color="#0050ff"/>
<stop offset="0.8203" stop-color="#0040ff"/>
<stop offset="0.8359" stop-color="#0030ff"/>
<stop offset="0.8516" stop-color="#0020ff"/>
<stop offset="0.8672" stop-color="#0010ff"/>
<stop offset="0.8828" stop-color="#0000ff"/>
<stop offset="0.8984" stop-color="#0000ef"/>
<stop offset="0.9141" stop-color="#0000df"/>
<stop offset="0.9297" stop-color="#0000cf"/>
<stop offset="0.9453" stop-color="#0000bf"/>
<stop offset="0.9609" stop-color="#0000af"/>
<stop offset="0.9766" stop-color="#00009f"/>
<stop offset="0.9922" stop-color="#000095"/>
</linearGradient>
<rect x="841.1" y="770.3" width="21.0" height="642.6000000000001" fill="url(#cb841)"/>
<path d="M841.8000000000001,771.3V1412.9M861.4,771.3V1412.9" stroke="#000" stroke-opacity="0.55" stroke-width="1.4"/>
<text transform="translate(865.5,1340.5)" x="0.0" y="0" font-family='"Liberation Sans", Arial, Helvetica, sans-serif' font-weight="bold" font-size="19.5" textLength="37.3" lengthAdjust="spacingAndGlyphs">100</text>
<text transform="translate(865.5,1261.1)" x="0.0" y="0" font-family='"Liberation Sans", Arial, Helvetica, sans-serif' font-weight="bold" font-size="19.5" textLength="37.3" lengthAdjust="spacingAndGlyphs">200</text>
<text transform="translate(865.5,1181.7)" x="0.0" y="0" font-family='"Liberation Sans", Arial, Helvetica, sans-serif' font-weight="bold" font-size="19.5" textLength="37.3" lengthAdjust="spacingAndGlyphs">300</text>
<text transform="translate(865.5,1102.3)" x="0.0" y="0" font-family='"Liberation Sans", Arial, Helvetica, sans-serif' font-weight="bold" font-size="19.5" textLength="37.3" lengthAdjust="spacingAndGlyphs">400</text>
<text transform="translate(865.5,1022.9)" x="0.0" y="0" font-family='"Liberation Sans", Arial, Helvetica, sans-serif' font-weight="bold" font-size="19.5" textLength="37.3" lengthAdjust="spacingAndGlyphs">500</text>
<text transform="translate(865.5,943.5)" x="0.0" y="0" font-family='"Liberation Sans", Arial, Helvetica, sans-serif' font-weight="bold" font-size="19.5" textLength="37.3" lengthAdjust="spacingAndGlyphs">600</text>
<text transform="translate(865.5,864.1)" x="0.0" y="0" font-family='"Liberation Sans", Arial, Helvetica, sans-serif' font-weight="bold" font-size="19.5" textLength="37.3" lengthAdjust="spacingAndGlyphs">700</text>
<text transform="translate(865.5,784.7)" x="0.0" y="0" font-family='"Liberation Sans", Arial, Helvetica, sans-serif' font-weight="bold" font-size="19.5" textLength="37.3" lengthAdjust="spacingAndGlyphs">800</text>
<path d="M841.1,1333.6h4M862.1,1333.6h-4M841.1,1254.2h4M862.1,1254.2h-4M841.1,1174.8h4M862.1,1174.8h-4M841.1,1095.4h4M862.1,1095.4h-4M841.1,1016.0h4M862.1,1016.0h-4M841.1,936.6h4M862.1,936.6h-4M841.1,857.2h4M862.1,857.2h-4" stroke="#000" stroke-opacity="0.5" stroke-width="1.2"/>
<text transform="translate(92.3,831.4)" x="-12.5" y="0" font-family='"Liberation Sans", Arial, Helvetica, sans-serif' font-weight="bold" font-size="20.5" textLength="12.5" lengthAdjust="spacingAndGlyphs">0</text>
<text transform="translate(92.3,922.5)" x="-12.5" y="0" font-family='"Liberation Sans", Arial, Helvetica, sans-serif' font-weight="bold" font-size="20.5" textLength="12.5" lengthAdjust="spacingAndGlyphs">2</text>
<text transform="translate(92.3,1013.7)" x="-12.5" y="0" font-family='"Liberation Sans", Arial, Helvetica, sans-serif' font-weight="bold" font-size="20.5" textLength="12.5" lengthAdjust="spacingAndGlyphs">4</text>
<text transform="translate(92.3,1104.8)" x="-12.5" y="0" font-family='"Liberation Sans", Arial, Helvetica, sans-serif' font-weight="bold" font-size="20.5" textLength="12.5" lengthAdjust="spacingAndGlyphs">6</text>
<text transform="translate(92.3,1196.0)" x="-12.5" y="0" font-family='"Liberation Sans", Arial, Helvetica, sans-serif' font-weight="bold" font-size="20.5" textLength="12.5" lengthAdjust="spacingAndGlyphs">8</text>
<text transform="translate(92.3,1287.1)" x="-25.1" y="0" font-family='"Liberation Sans", Arial, Helvetica, sans-serif' font-weight="bold" font-size="20.5" textLength="25.1" lengthAdjust="spacingAndGlyphs">10</text>
<text transform="translate(92.3,1378.2)" x="-25.1" y="0" font-family='"Liberation Sans", Arial, Helvetica, sans-serif' font-weight="bold" font-size="20.5" textLength="25.1" lengthAdjust="spacingAndGlyphs">12</text>
<text transform="translate(95.3,1434.8)" x="-6.3" y="0" font-family='"Liberation Sans", Arial, Helvetica, sans-serif' font-weight="bold" font-size="20" textLength="12.6" lengthAdjust="spacingAndGlyphs">0</text>
<text transform="translate(278.2,1434.8)" x="-15.7" y="0" font-family='"Liberation Sans", Arial, Helvetica, sans-serif' font-weight="bold" font-size="20" textLength="31.4" lengthAdjust="spacingAndGlyphs">0.5</text>
<text transform="translate(461.1,1434.8)" x="-6.3" y="0" font-family='"Liberation Sans", Arial, Helvetica, sans-serif' font-weight="bold" font-size="20" textLength="12.6" lengthAdjust="spacingAndGlyphs">1</text>
<text transform="translate(644.0,1434.8)" x="-15.7" y="0" font-family='"Liberation Sans", Arial, Helvetica, sans-serif' font-weight="bold" font-size="20" textLength="31.4" lengthAdjust="spacingAndGlyphs">1.5</text>
<text transform="translate(826.9,1434.8)" x="-6.3" y="0" font-family='"Liberation Sans", Arial, Helvetica, sans-serif' font-weight="bold" font-size="20" textLength="12.6" lengthAdjust="spacingAndGlyphs">2</text>
<text transform="translate(460.5,1456.4)" x="-36.6" y="0" font-family='"Liberation Sans", Arial, Helvetica, sans-serif' font-weight="bold" font-size="22.5" textLength="73.3" lengthAdjust="spacingAndGlyphs">x (<tspan font-weight="normal">μ</tspan>m)</text>
<text transform="translate(56.6,1092.7) rotate(-90) scale(1,1.27)" x="-31.4" y="0" font-family='"Liberation Sans", Arial, Helvetica, sans-serif' font-weight="bold" font-size="21.6" textLength="62.7" lengthAdjust="spacingAndGlyphs">z (<tspan font-weight="normal">μ</tspan>m)</text>
<text x="20" y="790" font-family='"Liberation Serif", "Times New Roman", serif' font-weight="bold" font-size="32" textLength="39.4" lengthAdjust="spacingAndGlyphs">(c)</text>
<rect x="1020.2" y="765.4" width="729.9" height="642.7" fill="#000095"/>
<clipPath id="hcd"><rect x="1020" y="765" width="730" height="643"/></clipPath>
<g clip-path="url(#hcd)">
<path fill="#00009f" fill-rule="evenodd" d="M1017.2,773.9 1159.2,774.1 1181.2,774.9 1213.2,777.0 1291.2,778.8 1486.1,778.8 1530.1,777.4 1558.1,777.0 1590.1,774.8 1612.1,774.1 1753.1,773.9 1753.1,1104.5 1017.2,1104.5ZM1205.8,822.4 1208.2,824.0 1209.1,825.4 1209.2,828.4 1208.6,834.4 1209.2,839.4 1211.7,843.4 1215.3,846.4 1222.1,849.4 1229.6,851.4 1248.8,854.4 1254.2,854.9 1258.2,854.8 1258.3,854.4 1250.2,853.8 1249.2,853.4 1243.2,852.8 1232.2,850.6 1223.2,848.0 1218.2,845.6 1215.1,843.4 1212.8,840.4 1211.9,837.4 1212.4,833.4 1213.9,830.4 1216.2,828.0 1219.2,825.9 1224.7,823.4 1225.7,822.4 1210.2,821.0 1206.9,821.4ZM1258.3,855.4 1265.2,855.8 1270.0,855.4 1259.2,854.9ZM1272.7,856.4 1284.4,856.4 1278.2,856.0ZM1486.6,856.4 1498.4,856.4 1493.1,856.0ZM1501.0,855.4 1506.1,855.8 1512.7,855.4 1512.1,854.9ZM1565.1,822.2 1564.2,821.4 1561.1,821.0 1545.3,822.4 1546.3,823.4 1551.1,825.5 1554.1,827.4 1557.1,830.4 1558.6,833.4 1559.1,836.4 1558.7,839.4 1556.8,842.4 1553.1,845.4 1550.1,847.0 1545.1,848.9 1534.1,851.7 1528.1,852.7 1521.8,853.4 1521.1,853.8 1512.7,854.4 1513.1,854.9 1517.1,854.9 1536.2,852.4 1548.9,849.4 1555.7,846.4 1559.3,843.4 1561.7,839.4 1562.4,834.4 1561.8,828.4 1561.9,825.4 1562.5,824.4ZM1017.2,1109.0 1753.1,1109.0 1753.1,1140.9 1017.2,1140.9Z"/>
<path fill="#0000af" fill-rule="evenodd" d="M1017.2,800.0 1148.2,800.1 1168.2,800.7 1180.2,802.1 1185.6,803.4 1190.2,805.2 1199.5,811.4 1200.2,812.4 1200.4,814.4 1195.9,820.4 1195.7,821.4 1202.2,823.7 1205.2,826.4 1206.5,829.4 1207.5,838.4 1209.2,842.3 1210.8,844.4 1213.2,846.4 1219.2,849.4 1226.2,851.5 1236.2,853.5 1250.0,855.4 1261.0,856.4 1278.2,857.0 1322.2,857.6 1377.6,857.4 1307.2,856.7 1271.2,854.8 1250.2,852.8 1237.2,850.8 1227.2,848.4 1219.8,845.4 1215.9,842.4 1213.9,839.4 1213.5,836.4 1214.3,833.4 1216.4,830.4 1220.2,827.5 1231.4,822.4 1225.3,821.4 1223.0,820.4 1218.6,815.4 1218.2,813.4 1219.5,811.4 1221.2,810.3 1234.2,805.2 1242.2,803.9 1254.2,803.4 1289.2,803.7 1480.1,803.7 1516.1,803.4 1531.1,804.1 1536.1,805.0 1540.1,806.2 1549.1,809.9 1551.5,811.4 1552.4,812.4 1552.8,814.4 1552.4,815.4 1548.0,820.4 1545.7,821.4 1539.6,822.4 1550.5,827.4 1554.1,830.0 1556.2,832.4 1557.5,836.4 1557.1,839.4 1555.1,842.4 1552.1,844.8 1545.1,847.9 1534.1,850.7 1520.1,852.9 1501.1,854.7 1463.1,856.8 1393.4,857.4 1445.1,857.6 1473.5,857.4 1510.0,856.4 1521.0,855.4 1534.1,853.6 1544.1,851.7 1551.8,849.4 1557.8,846.4 1560.1,844.4 1561.8,842.4 1563.5,838.4 1564.8,828.4 1566.1,826.0 1569.1,823.5 1575.3,821.4 1575.1,820.4 1570.6,814.4 1570.8,812.4 1571.5,811.4 1573.1,810.0 1581.1,805.0 1585.4,803.4 1591.1,802.0 1603.1,800.7 1623.1,800.1 1753.1,800.0 1753.1,1102.1 1017.2,1102.1Z"/>
<path fill="#0000bf" fill-rule="evenodd" d="M1017.2,810.5 1153.2,810.6 1167.2,811.0 1176.2,812.1 1181.2,813.5 1184.5,815.4 1186.0,817.4 1187.5,821.4 1193.2,823.6 1201.2,825.7 1202.2,826.4 1203.7,828.4 1204.5,830.4 1206.1,838.4 1207.2,841.4 1209.2,844.5 1212.6,847.4 1218.2,850.1 1225.2,852.2 1235.2,854.1 1247.2,855.8 1264.2,856.9 1292.2,857.6 1444.1,857.9 1494.7,857.4 1518.0,856.4 1536.1,854.1 1550.1,851.0 1557.1,848.1 1559.8,846.4 1562.1,844.1 1564.7,839.4 1566.8,829.4 1569.1,826.1 1570.1,825.6 1578.6,823.4 1583.5,821.4 1585.1,817.2 1587.1,814.9 1591.1,813.0 1597.1,811.7 1606.1,810.9 1620.1,810.6 1753.1,810.5 1753.1,1066.2 1017.2,1066.2ZM1215.2,837.4 1216.2,833.4 1217.7,831.4 1220.2,829.4 1226.2,826.2 1236.4,822.4 1233.0,821.4 1231.8,820.4 1232.0,817.4 1232.8,815.4 1235.2,813.8 1240.2,812.4 1248.2,811.4 1274.2,810.9 1504.1,810.9 1525.1,811.6 1533.1,812.9 1536.1,814.0 1538.1,815.3 1539.0,817.4 1539.2,820.4 1538.0,821.4 1534.6,822.4 1545.1,826.3 1551.1,829.6 1553.3,831.4 1554.8,833.4 1555.8,837.4 1555.5,839.4 1553.4,842.4 1550.1,844.8 1546.1,846.7 1541.1,848.4 1534.1,850.0 1517.1,852.6 1495.1,854.5 1468.1,855.8 1426.1,856.7 1385.2,856.9 1344.2,856.7 1303.2,855.8 1276.2,854.6 1254.2,852.6 1237.2,850.1 1230.2,848.4 1225.2,846.8 1221.2,845.0 1217.6,842.4 1215.5,839.4ZM1017.2,1069.0 1753.1,1069.0 1753.1,1099.7 1017.2,1099.7Z"/>
<path fill="#0000cf" fill-rule="evenodd" d="M1216.8,837.4 1217.1,835.4 1218.2,833.3 1219.9,831.4 1223.2,829.1 1230.2,825.8 1241.1,822.4 1243.2,820.9 1250.2,818.1 1256.2,817.1 1265.2,816.6 1303.2,816.3 1485.1,816.3 1513.1,817.0 1519.1,817.8 1523.1,818.8 1528.1,821.1 1529.9,822.4 1538.1,824.8 1545.1,827.7 1549.8,830.4 1552.1,832.4 1553.5,834.4 1554.2,837.4 1553.9,839.4 1551.6,842.4 1548.9,844.4 1544.7,846.4 1533.1,849.6 1516.1,852.2 1493.1,854.2 1463.1,855.5 1427.1,856.2 1385.2,856.5 1343.2,856.2 1307.2,855.5 1277.2,854.1 1254.2,852.1 1238.2,849.6 1231.2,848.0 1226.3,846.4 1222.1,844.4 1219.4,842.4 1217.2,839.4ZM1017.2,818.5 1150.2,818.5 1165.2,819.1 1171.2,820.0 1192.2,826.1 1201.2,828.2 1202.2,829.4 1203.1,831.4 1205.7,841.4 1207.2,844.0 1209.2,846.4 1212.2,848.5 1217.2,850.8 1224.2,852.9 1232.2,854.5 1245.6,856.4 1266.2,857.4 1325.2,858.1 1446.1,858.1 1504.1,857.4 1525.4,856.4 1538.1,854.6 1546.1,853.1 1552.3,851.4 1557.1,849.4 1561.1,847.0 1563.6,844.4 1565.1,841.7 1566.1,839.0 1567.9,831.4 1569.1,828.9 1570.1,828.1 1579.1,826.1 1599.1,820.2 1606.1,819.0 1621.1,818.5 1753.1,818.5 1753.1,893.8 1610.1,893.8 1480.1,893.0 1284.2,893.0 1162.2,893.8 1017.2,893.8ZM1017.2,896.3 1753.1,896.3 1753.1,943.0 1017.2,943.0ZM1017.2,943.8 1753.1,943.8 1753.1,990.0 1017.2,990.0ZM1017.2,995.7 1753.1,995.7 1753.1,1031.8 1017.2,1031.8ZM1017.2,1032.8 1753.1,1032.8 1753.1,1064.2 1017.2,1064.2ZM1017.2,1071.7 1753.1,1071.7 1753.1,1097.2 1017.2,1097.2Z"/>
<path fill="#0000df" fill-rule="evenodd" d="M1218.4,837.4 1219.3,834.4 1220.9,832.4 1223.4,830.4 1227.0,828.4 1236.2,824.8 1243.2,822.9 1249.2,821.8 1287.2,820.9 1385.2,820.6 1484.1,820.9 1522.1,821.9 1534.1,824.6 1544.1,828.5 1547.6,830.4 1550.1,832.4 1551.7,834.4 1552.6,837.4 1552.1,839.5 1549.9,842.4 1547.0,844.4 1542.5,846.4 1530.1,849.5 1514.1,851.9 1491.1,853.8 1464.1,855.0 1427.1,855.9 1385.2,856.1 1343.2,855.8 1306.2,855.0 1279.2,853.8 1256.2,851.8 1240.2,849.4 1228.2,846.2 1224.0,844.4 1221.1,842.4 1218.8,839.4ZM1017.2,823.9 1151.2,823.9 1169.2,824.5 1179.2,826.1 1201.2,831.0 1202.3,833.4 1203.7,839.4 1205.2,843.2 1207.2,846.2 1209.2,848.1 1213.0,850.4 1217.2,852.0 1224.2,853.9 1232.2,855.5 1238.5,856.4 1247.2,857.0 1271.2,857.8 1325.2,858.4 1446.1,858.4 1499.1,857.8 1522.1,857.0 1532.5,856.4 1546.1,854.1 1553.1,852.2 1558.1,850.3 1562.1,847.8 1564.5,845.4 1566.1,842.6 1567.3,839.4 1568.7,833.4 1570.1,830.9 1592.1,826.0 1602.1,824.5 1619.1,823.9 1753.1,823.9 1753.1,892.2 1624.1,892.2 1504.1,891.4 1270.2,891.4 1145.2,892.2 1017.2,892.2ZM1017.2,898.0 1753.1,898.0 1753.1,941.2 1017.2,941.2ZM1017.2,945.5 1753.1,945.5 1753.1,988.6 1017.2,988.6ZM1017.2,997.4 1753.1,997.4 1753.1,1030.8 1017.2,1030.8ZM1017.2,1034.0 1753.1,1034.0 1753.1,1062.2 1017.2,1062.2Z"/>
<path fill="#0000ef" fill-rule="evenodd" d="M1220.1,837.4 1221.1,834.4 1222.8,832.4 1225.6,830.4 1229.2,828.5 1239.2,824.9 1246.2,823.2 1252.2,822.3 1276.2,821.5 1385.2,821.1 1494.1,821.5 1518.1,822.2 1524.1,823.1 1531.1,824.7 1541.1,828.2 1545.4,830.4 1548.2,832.4 1549.9,834.4 1550.9,837.4 1550.6,839.4 1548.1,842.4 1545.0,844.4 1541.1,846.0 1529.1,849.1 1512.1,851.6 1488.1,853.5 1461.1,854.7 1425.1,855.5 1385.2,855.8 1345.2,855.5 1309.2,854.7 1282.2,853.5 1258.2,851.5 1241.2,849.0 1234.2,847.4 1229.2,845.8 1225.2,843.9 1222.2,841.7 1220.4,839.4ZM1017.2,828.4 1156.2,828.4 1172.2,828.9 1182.2,830.3 1201.2,834.3 1204.3,844.4 1206.2,847.2 1208.6,849.4 1212.2,851.4 1217.2,853.2 1224.2,855.0 1231.7,856.4 1245.7,857.4 1277.2,858.1 1385.2,858.8 1493.1,858.1 1525.3,857.4 1539.3,856.4 1547.1,855.0 1554.1,853.2 1558.9,851.4 1562.4,849.4 1565.1,846.9 1566.7,844.4 1568.2,840.4 1569.1,836.1 1570.1,834.1 1589.1,830.2 1599.1,828.9 1614.1,828.4 1753.1,828.4 1753.1,890.6 1474.1,890.3 1017.2,890.6ZM1017.2,899.7 1753.1,899.7 1753.1,939.6 1017.2,939.6ZM1017.2,946.8 1753.1,946.8 1753.1,987.3 1017.2,987.3ZM1017.2,998.1 1753.1,998.1 1753.1,1029.9 1017.2,1029.9ZM1017.2,1035.0 1753.1,1035.0 1753.1,1060.0 1017.2,1060.0Z"/>
<path fill="#0000ff" fill-rule="evenodd" d="M1221.7,837.4 1222.8,834.4 1224.7,832.4 1227.7,830.4 1232.2,828.2 1243.2,824.7 1256.9,822.4 1289.2,821.6 1385.2,821.4 1482.1,821.6 1514.1,822.4 1527.1,824.5 1538.1,827.9 1543.3,830.4 1546.3,832.4 1548.2,834.4 1549.3,837.4 1549.0,839.4 1547.5,841.4 1544.9,843.4 1540.1,845.6 1528.1,848.7 1511.1,851.2 1490.1,853.0 1463.1,854.2 1427.1,855.1 1385.2,855.4 1343.2,855.1 1307.2,854.2 1280.2,852.9 1259.2,851.1 1243.2,848.8 1231.2,845.7 1227.2,843.9 1224.2,842.0 1222.0,839.4ZM1017.2,832.4 1151.2,832.4 1171.2,832.9 1183.2,834.4 1200.2,838.5 1201.2,839.2 1204.2,847.0 1207.5,850.4 1210.2,852.0 1214.2,853.6 1225.2,856.4 1238.2,857.4 1272.2,858.3 1385.2,859.0 1499.1,858.3 1533.1,857.4 1545.8,856.4 1556.1,853.9 1560.1,852.3 1563.1,850.7 1565.1,849.0 1567.1,846.5 1570.1,838.9 1571.1,838.5 1587.8,834.4 1600.1,832.9 1620.1,832.4 1753.1,832.4 1753.1,889.2 1017.2,889.2ZM1017.2,901.0 1753.1,901.0 1753.1,938.1 1017.2,938.1ZM1017.2,948.1 1753.1,948.1 1753.1,985.9 1017.2,985.9ZM1017.2,998.5 1753.1,998.5 1753.1,1029.1 1017.2,1029.1ZM1017.2,1036.5 1753.1,1036.5 1753.1,1055.7 1017.2,1055.7Z"/>
<path fill="#0010ff" fill-rule="evenodd" d="M1223.3,837.4 1224.6,834.4 1226.5,832.4 1229.7,830.4 1234.2,828.3 1245.2,825.0 1259.2,822.7 1269.2,822.1 1290.2,821.8 1384.2,821.5 1479.1,821.8 1500.1,822.1 1511.1,822.7 1525.1,824.8 1536.1,828.0 1541.3,830.4 1544.5,832.4 1546.4,834.4 1547.7,837.4 1547.3,839.4 1545.8,841.4 1543.0,843.4 1538.6,845.4 1527.1,848.4 1510.1,850.8 1488.1,852.7 1461.1,853.9 1425.1,854.8 1385.2,855.0 1346.2,854.8 1310.2,853.9 1283.2,852.7 1261.2,850.9 1244.2,848.4 1232.4,845.4 1228.0,843.4 1225.2,841.4 1223.7,839.4ZM1017.2,838.5 1141.2,838.5 1167.2,839.1 1181.2,840.2 1200.2,843.0 1201.2,843.6 1202.8,847.4 1204.2,849.5 1208.2,852.7 1212.2,854.5 1216.2,855.7 1225.2,857.0 1243.2,857.9 1276.2,858.6 1385.2,859.3 1495.1,858.6 1528.1,857.9 1546.1,857.0 1555.1,855.6 1560.1,854.0 1563.1,852.5 1567.0,849.4 1570.1,843.4 1571.1,843.0 1590.1,840.2 1603.1,839.1 1630.1,838.5 1753.1,838.5 1753.1,888.4 1017.2,888.4ZM1017.2,901.7 1753.1,901.7 1753.1,937.0 1017.2,937.0ZM1017.2,949.0 1753.1,949.0 1753.1,984.7 1017.2,984.7ZM1017.2,999.0 1753.1,999.0 1753.1,1028.3 1017.2,1028.3Z"/>
<path fill="#0020ff" fill-rule="evenodd" d="M1224.9,837.4 1226.2,834.5 1228.2,832.5 1231.2,830.6 1235.2,828.8 1246.2,825.5 1261.2,823.1 1270.2,822.4 1291.2,821.9 1385.2,821.6 1478.1,821.9 1500.1,822.3 1509.1,823.0 1523.1,825.1 1530.1,826.8 1535.1,828.5 1539.3,830.4 1542.7,832.4 1544.8,834.4 1546.1,837.4 1545.7,839.4 1544.1,841.4 1541.1,843.4 1536.4,845.4 1525.1,848.2 1508.1,850.6 1487.1,852.3 1458.1,853.6 1422.1,854.4 1386.1,854.7 1349.2,854.4 1313.2,853.6 1286.2,852.4 1263.2,850.6 1246.2,848.2 1234.6,845.4 1229.9,843.4 1226.9,841.4 1225.3,839.4ZM1017.2,842.7 1138.2,842.7 1163.2,843.3 1179.2,844.5 1200.2,847.5 1201.2,847.9 1204.2,852.1 1208.2,854.6 1213.0,856.4 1221.1,857.4 1242.2,858.2 1274.2,858.8 1385.2,859.5 1497.1,858.8 1528.1,858.2 1549.9,857.4 1558.0,856.4 1562.1,855.0 1566.5,852.4 1570.1,847.8 1592.1,844.5 1608.1,843.3 1633.1,842.7 1753.1,842.7 1753.1,887.7 1017.2,887.7ZM1017.2,902.4 1753.1,902.4 1753.1,936.2 1017.2,936.2ZM1017.2,949.9 1753.1,949.9 1753.1,983.7 1017.2,983.7ZM1017.2,999.4 1753.1,999.4 1753.1,1027.4 1017.2,1027.4Z"/>
<path fill="#0030ff" fill-rule="evenodd" d="M1226.5,837.4 1227.2,835.4 1229.2,833.1 1232.2,831.1 1237.2,828.9 1248.2,825.7 1263.4,823.4 1277.7,822.4 1293.2,822.1 1385.2,821.7 1478.1,822.1 1493.3,822.4 1507.6,823.4 1523.1,825.8 1534.1,829.0 1539.3,831.4 1542.1,833.4 1543.8,835.4 1544.5,837.4 1544.1,839.4 1542.4,841.4 1539.3,843.4 1535.1,845.1 1524.1,847.8 1507.1,850.2 1486.1,852.0 1459.1,853.2 1424.1,854.1 1385.2,854.3 1346.2,854.1 1311.2,853.2 1284.2,851.9 1264.2,850.3 1248.2,848.1 1236.2,845.2 1231.7,843.4 1228.6,841.4 1226.9,839.4ZM1017.2,846.5 1137.2,846.5 1156.2,846.9 1178.2,848.3 1201.2,851.8 1204.2,854.7 1207.5,856.4 1213.7,857.4 1239.2,858.5 1271.2,859.1 1385.2,859.8 1498.1,859.1 1551.1,857.8 1557.3,857.4 1563.5,856.4 1566.1,855.2 1570.1,851.7 1592.1,848.4 1614.1,846.9 1634.1,846.5 1753.1,846.5 1753.1,887.0 1017.2,887.0ZM1017.2,902.9 1753.1,902.9 1753.1,935.6 1017.2,935.6ZM1017.2,950.8 1753.1,950.8 1753.1,982.8 1017.2,982.8ZM1017.2,999.8 1753.1,999.8 1753.1,1026.6 1017.2,1026.6Z"/>
<path fill="#0040ff" fill-rule="evenodd" d="M1228.1,837.4 1228.8,835.4 1231.2,832.9 1234.2,831.0 1239.2,828.9 1245.2,827.1 1251.2,825.7 1267.2,823.5 1282.2,822.5 1295.2,822.2 1385.2,821.8 1475.1,822.2 1487.1,822.5 1503.1,823.5 1519.1,825.6 1531.1,828.7 1535.4,830.4 1539.1,832.4 1541.4,834.4 1542.9,837.4 1542.4,839.4 1540.7,841.4 1537.4,843.4 1533.1,845.0 1521.1,847.8 1505.1,850.0 1484.1,851.7 1457.1,852.9 1422.1,853.8 1385.2,854.0 1347.2,853.7 1313.2,852.9 1286.2,851.7 1265.2,849.9 1248.2,847.5 1237.2,844.8 1233.6,843.4 1230.3,841.4 1228.6,839.4ZM1017.2,849.5 1148.2,849.7 1164.2,850.5 1178.2,851.8 1200.2,855.2 1202.6,856.4 1207.0,857.4 1221.2,858.3 1295.2,859.6 1385.2,860.0 1476.1,859.6 1550.1,858.3 1564.0,857.4 1568.4,856.4 1571.1,855.1 1593.1,851.7 1607.1,850.5 1623.1,849.7 1753.1,849.5 1753.1,886.3 1431.1,886.0 1017.2,886.3ZM1017.2,903.5 1753.1,903.5 1753.1,934.9 1017.2,934.9ZM1017.2,951.7 1753.1,951.7 1753.1,981.8 1017.2,981.8ZM1017.2,1000.2 1753.1,1000.2 1753.1,1025.9 1017.2,1025.9Z"/>
<path fill="#0050ff" fill-rule="evenodd" d="M1229.7,837.4 1230.4,835.4 1233.2,832.7 1236.2,831.0 1241.2,829.0 1253.2,826.0 1269.2,823.8 1295.2,822.4 1385.2,821.9 1475.1,822.3 1501.1,823.8 1518.1,826.0 1530.1,829.1 1535.6,831.4 1538.7,833.4 1540.6,835.4 1541.3,837.4 1540.8,839.4 1538.9,841.4 1535.5,843.4 1532.1,844.6 1520.1,847.5 1503.1,849.8 1482.1,851.5 1454.1,852.7 1420.1,853.5 1385.2,853.7 1350.2,853.4 1316.2,852.7 1289.2,851.5 1267.2,849.7 1250.2,847.4 1239.2,844.7 1235.5,843.4 1232.1,841.4 1230.2,839.4ZM1017.2,852.5 1143.2,852.6 1163.2,853.6 1187.0,856.4 1209.2,858.2 1222.2,858.8 1300.2,859.9 1385.2,860.3 1470.1,859.9 1549.1,858.8 1561.1,858.2 1584.0,856.4 1608.1,853.5 1628.1,852.6 1753.1,852.5 1753.1,885.6 1410.1,885.3 1017.2,885.6ZM1017.2,904.1 1753.1,904.1 1753.1,934.3 1017.2,934.3ZM1017.2,952.6 1753.1,952.6 1753.1,980.9 1017.2,980.9ZM1017.2,1000.9 1753.1,1000.9 1753.1,1025.2 1017.2,1025.2Z"/>
<path fill="#0060ff" fill-rule="evenodd" d="M1231.3,837.4 1232.1,835.4 1234.0,833.4 1237.2,831.4 1242.2,829.4 1254.2,826.4 1271.2,824.2 1283.2,823.2 1303.7,822.4 1385.2,822.0 1467.3,822.4 1488.1,823.2 1500.1,824.2 1517.1,826.5 1528.8,829.4 1533.8,831.4 1537.0,833.4 1538.9,835.4 1539.7,837.4 1539.2,839.4 1537.2,841.4 1530.9,844.4 1519.1,847.2 1502.1,849.5 1482.1,851.1 1455.1,852.3 1422.1,853.1 1385.2,853.4 1348.2,853.1 1315.2,852.3 1289.2,851.1 1269.2,849.5 1252.2,847.2 1240.2,844.4 1233.8,841.4 1231.8,839.4ZM1017.2,855.5 1139.2,855.5 1174.7,857.4 1225.2,859.3 1303.2,860.2 1385.2,860.7 1468.1,860.2 1546.1,859.3 1596.3,857.4 1631.1,855.5 1753.1,855.5 1753.1,884.9 1418.1,884.5 1017.2,884.9ZM1017.2,904.7 1753.1,904.7 1753.1,933.7 1017.2,933.7ZM1017.2,953.4 1753.1,953.4 1753.1,980.0 1017.2,980.0ZM1017.2,1002.3 1753.1,1002.3 1753.1,1024.5 1017.2,1024.5Z"/>
<path fill="#0070ff" fill-rule="evenodd" d="M1232.9,837.4 1233.7,835.4 1235.6,833.4 1239.1,831.4 1243.2,829.8 1255.2,826.8 1271.2,824.6 1287.2,823.3 1314.2,822.4 1385.2,822.1 1456.8,822.4 1484.1,823.4 1500.1,824.7 1516.1,826.8 1528.1,829.9 1531.9,831.4 1535.4,833.4 1537.3,835.4 1538.1,837.4 1537.6,839.4 1535.5,841.4 1528.8,844.4 1517.1,847.0 1501.1,849.2 1481.1,850.8 1454.1,852.0 1421.1,852.8 1385.2,853.1 1349.2,852.8 1317.2,852.0 1290.2,850.8 1270.2,849.2 1254.2,847.1 1242.2,844.4 1235.5,841.4 1233.4,839.4ZM1017.2,858.7 1200.2,858.9 1235.2,859.9 1385.2,861.0 1536.1,859.9 1571.1,858.9 1753.1,858.7 1753.1,884.2 1414.1,883.8 1017.2,884.2ZM1017.2,905.4 1753.1,905.4 1753.1,933.0 1017.2,933.0ZM1017.2,954.2 1753.1,954.2 1753.1,979.1 1017.2,979.1ZM1017.2,1005.0 1753.1,1005.0 1753.1,1023.8 1017.2,1023.8Z"/>
<path fill="#0080ff" fill-rule="evenodd" d="M1234.5,837.4 1235.3,835.4 1237.3,833.4 1241.0,831.4 1245.2,829.8 1257.2,827.0 1273.2,824.9 1293.1,823.4 1315.2,822.6 1385.2,822.2 1456.1,822.6 1477.9,823.4 1498.1,824.9 1514.1,827.0 1526.1,829.9 1530.0,831.4 1533.7,833.4 1535.7,835.4 1536.5,837.4 1535.9,839.4 1533.7,841.4 1526.6,844.4 1515.1,846.9 1499.1,849.0 1478.1,850.6 1452.1,851.8 1419.1,852.6 1385.2,852.8 1351.2,852.5 1318.2,851.8 1292.2,850.6 1271.2,848.9 1255.2,846.8 1244.2,844.3 1237.3,841.4 1235.1,839.4ZM1017.2,861.6 1142.2,861.5 1201.2,859.7 1222.2,860.3 1385.2,861.4 1548.1,860.3 1570.1,859.7 1628.1,861.5 1753.1,861.6 1753.1,883.3 1401.1,883.0 1017.2,883.3ZM1017.2,906.2 1753.1,906.2 1753.1,932.3 1017.2,932.3ZM1017.2,955.0 1753.1,955.0 1753.1,978.3 1017.2,978.3ZM1017.2,1007.9 1753.1,1007.9 1753.1,1022.9 1017.2,1022.9Z"/>
<path fill="#008fff" fill-rule="evenodd" d="M1236.1,837.4 1236.9,835.4 1239.0,833.4 1245.6,830.4 1258.2,827.4 1274.2,825.3 1295.2,823.6 1314.2,822.9 1341.8,822.4 1385.2,822.3 1429.2,822.4 1457.1,822.9 1476.1,823.7 1497.1,825.3 1513.1,827.4 1525.1,830.3 1532.0,833.4 1534.1,835.4 1534.9,837.4 1534.3,839.4 1532.1,841.2 1525.1,844.2 1514.1,846.6 1498.1,848.7 1478.1,850.3 1450.1,851.5 1420.1,852.2 1385.2,852.5 1350.2,852.2 1320.2,851.5 1293.2,850.3 1273.2,848.7 1257.2,846.6 1246.2,844.2 1239.1,841.4 1236.7,839.4ZM1017.2,862.6 1148.2,862.5 1201.2,860.7 1385.2,861.8 1570.1,860.7 1623.1,862.5 1753.1,862.6 1753.1,882.4 1017.2,882.4ZM1017.2,907.1 1753.1,907.1 1753.1,931.4 1017.2,931.4ZM1017.2,955.7 1753.1,955.7 1753.1,977.4 1017.2,977.4ZM1017.2,1011.9 1753.1,1011.9 1753.1,1021.6 1017.2,1021.6Z"/>
<path fill="#009fff" fill-rule="evenodd" d="M1237.7,837.4 1238.5,835.4 1240.8,833.4 1247.7,830.4 1259.2,827.7 1274.2,825.7 1293.2,824.2 1312.2,823.2 1346.2,822.5 1385.2,822.4 1424.1,822.5 1457.1,823.2 1476.1,824.1 1496.1,825.7 1511.1,827.6 1523.3,830.4 1530.2,833.4 1532.5,835.4 1533.3,837.4 1532.6,839.4 1531.6,840.4 1528.1,842.4 1524.1,843.8 1512.7,846.4 1496.1,848.5 1476.1,850.0 1450.1,851.2 1419.1,852.0 1385.2,852.2 1351.2,852.0 1320.2,851.2 1294.2,850.0 1274.2,848.4 1258.3,846.4 1247.2,843.9 1242.9,842.4 1240.2,840.9 1238.4,839.4ZM1017.2,863.2 1144.2,863.2 1201.2,861.8 1257.2,861.5 1384.2,862.2 1525.1,861.6 1570.1,861.8 1626.1,863.2 1753.1,863.2 1753.1,881.5 1017.2,881.5ZM1017.2,908.1 1753.1,908.1 1753.1,930.3 1017.2,930.3ZM1017.2,956.5 1753.1,956.5 1753.1,976.6 1017.2,976.6Z"/>
<path fill="#00afff" fill-rule="evenodd" d="M1239.4,837.4 1240.2,835.4 1242.5,833.4 1249.2,830.6 1261.2,827.9 1276.2,826.0 1294.2,824.5 1316.1,823.4 1385.2,822.5 1454.9,823.4 1477.1,824.5 1495.1,826.0 1510.1,828.0 1522.1,830.7 1528.5,833.4 1530.8,835.4 1531.6,837.4 1530.9,839.4 1529.9,840.4 1526.2,842.4 1523.1,843.5 1511.1,846.2 1495.1,848.2 1475.1,849.8 1449.1,851.0 1418.1,851.7 1385.2,851.9 1352.2,851.7 1322.2,851.0 1296.2,849.8 1276.2,848.3 1260.2,846.2 1248.2,843.6 1244.8,842.4 1241.1,840.4 1240.1,839.4ZM1017.2,863.9 1145.2,863.8 1201.2,862.6 1265.2,862.1 1385.2,862.7 1515.1,862.1 1570.1,862.6 1625.1,863.8 1753.1,863.9 1753.1,880.5 1481.1,880.8 1017.2,880.5ZM1017.2,909.1 1753.1,909.1 1753.1,929.2 1017.2,929.2ZM1017.2,957.3 1753.1,957.3 1753.1,975.7 1017.2,975.7Z"/>
<path fill="#00bfff" fill-rule="evenodd" d="M1241.0,837.4 1241.8,835.4 1243.2,834.1 1246.3,832.4 1250.2,830.9 1262.2,828.3 1278.2,826.2 1299.2,824.6 1325.6,823.4 1385.2,822.7 1445.4,823.4 1472.1,824.6 1493.1,826.2 1508.1,828.1 1520.1,830.7 1524.7,832.4 1527.1,833.7 1529.2,835.4 1530.0,837.4 1529.2,839.4 1528.1,840.4 1525.1,842.0 1521.1,843.4 1509.1,846.0 1493.1,848.0 1472.1,849.6 1447.1,850.7 1385.2,851.7 1353.2,851.4 1323.2,850.7 1298.2,849.6 1277.2,848.0 1261.2,845.9 1249.6,843.4 1246.2,842.1 1242.9,840.4 1241.8,839.4ZM1017.2,864.6 1143.2,864.5 1201.2,863.3 1270.2,862.6 1384.2,863.1 1510.1,862.6 1570.1,863.3 1627.1,864.5 1753.1,864.6 1753.1,879.0 1631.1,879.0 1481.1,880.1 1268.2,880.1 1140.2,879.0 1017.2,879.0ZM1017.2,910.0 1753.1,910.0 1753.1,928.1 1017.2,928.1ZM1017.2,958.1 1753.1,958.1 1753.1,974.5 1017.2,974.5Z"/>
<path fill="#00cfff" fill-rule="evenodd" d="M1242.7,837.4 1243.2,835.9 1244.6,834.4 1248.2,832.4 1251.2,831.3 1263.2,828.6 1279.2,826.5 1300.2,824.9 1326.2,823.7 1385.2,823.0 1445.1,823.7 1471.1,824.9 1492.1,826.5 1508.1,828.6 1519.1,831.1 1522.8,832.4 1526.4,834.4 1528.1,836.4 1528.3,837.4 1527.5,839.4 1526.3,840.4 1523.1,842.0 1519.2,843.4 1508.1,845.7 1492.1,847.8 1472.1,849.3 1446.1,850.5 1417.1,851.2 1385.2,851.4 1325.2,850.5 1299.2,849.3 1279.2,847.8 1263.2,845.8 1251.8,843.4 1248.2,842.1 1244.7,840.4 1243.5,839.4ZM1017.2,865.8 1139.2,865.8 1201.2,864.0 1273.2,863.1 1384.2,863.7 1510.1,863.2 1570.1,864.0 1632.1,865.8 1753.1,865.8 1753.1,876.4 1630.1,876.5 1557.1,878.7 1481.1,879.4 1258.2,879.3 1200.2,878.4 1141.2,876.5 1017.2,876.4ZM1017.2,911.0 1753.1,911.0 1753.1,927.0 1017.2,927.0ZM1017.2,959.2 1753.1,959.2 1753.1,972.9 1017.2,972.9Z"/>
<path fill="#00dfff" fill-rule="evenodd" d="M1244.4,837.4 1245.2,835.5 1246.4,834.4 1249.2,832.8 1253.1,831.4 1264.2,828.9 1280.2,826.8 1301.2,825.2 1326.2,824.0 1351.3,823.4 1385.2,823.2 1419.7,823.4 1444.1,824.0 1469.1,825.1 1490.1,826.8 1506.1,828.8 1517.9,831.4 1521.1,832.5 1524.6,834.4 1526.1,836.0 1526.6,837.4 1525.7,839.4 1524.5,840.4 1521.1,842.0 1517.0,843.4 1506.1,845.6 1491.1,847.5 1471.1,849.0 1446.1,850.2 1417.1,850.9 1385.2,851.1 1353.2,850.9 1324.2,850.2 1299.2,849.0 1280.2,847.5 1265.2,845.7 1254.0,843.4 1250.2,842.1 1246.5,840.4 1245.2,839.2ZM1017.2,870.2 1141.2,870.1 1157.2,869.1 1192.0,865.4 1250.2,863.9 1392.1,864.3 1504.1,863.8 1545.3,864.4 1579.0,865.4 1614.1,869.1 1630.1,870.1 1753.1,870.2 1753.1,873.8 1626.1,873.9 1604.1,874.7 1563.2,877.3 1513.1,878.5 1274.2,878.6 1240.2,878.2 1209.2,877.4 1166.2,874.7 1144.2,873.9 1017.2,873.8ZM1017.2,912.5 1753.1,912.5 1753.1,925.5 1017.2,925.5ZM1017.2,961.3 1753.1,961.3 1753.1,971.1 1017.2,971.1Z"/>
<path fill="#00efff" fill-rule="evenodd" d="M1246.1,837.4 1247.0,835.4 1248.2,834.4 1251.2,832.8 1255.3,831.4 1266.2,829.1 1282.2,827.0 1302.2,825.5 1327.2,824.3 1385.2,823.4 1416.1,823.6 1444.1,824.3 1469.1,825.5 1489.1,827.1 1504.1,829.0 1515.7,831.4 1519.1,832.5 1522.8,834.4 1524.1,835.6 1524.9,837.4 1523.9,839.4 1522.7,840.4 1519.1,842.0 1514.8,843.4 1504.1,845.5 1489.1,847.3 1469.1,848.8 1445.1,849.9 1416.1,850.6 1385.2,850.9 1326.2,849.9 1302.2,848.9 1282.1,847.4 1267.2,845.5 1256.2,843.4 1252.2,842.1 1248.3,840.4 1247.1,839.4ZM1178.3,872.4 1180.4,871.4 1184.0,870.4 1201.2,867.7 1216.4,866.4 1237.2,865.2 1277.2,864.5 1371.2,865.2 1492.1,864.5 1524.1,864.9 1542.1,865.6 1569.1,867.6 1587.0,870.4 1590.6,871.4 1592.7,872.4 1548.9,876.3 1519.1,877.6 1484.1,877.9 1290.2,877.9 1254.2,877.6 1222.1,876.3ZM1017.2,914.6 1753.1,914.6 1753.1,923.4 1017.2,923.4ZM1017.2,963.7 1753.1,963.7 1753.1,969.4 1017.2,969.4Z"/>
<path fill="#00ffff" fill-rule="evenodd" d="M1247.9,837.4 1248.8,835.4 1250.0,834.4 1253.2,832.8 1257.5,831.4 1268.2,829.2 1283.2,827.3 1302.2,825.8 1326.2,824.7 1354.2,823.9 1385.2,823.7 1416.1,823.9 1444.1,824.6 1468.1,825.8 1487.1,827.3 1502.1,829.1 1513.5,831.4 1517.1,832.5 1521.0,834.4 1522.2,835.4 1523.1,837.4 1522.1,839.4 1520.8,840.4 1517.1,842.0 1513.1,843.2 1502.2,845.4 1487.1,847.2 1467.1,848.6 1443.1,849.7 1385.2,850.6 1327.2,849.7 1303.2,848.6 1283.2,847.1 1268.8,845.4 1257.2,843.0 1250.2,840.4 1248.9,839.4ZM1212.3,871.4 1212.5,870.4 1217.2,869.4 1236.2,867.4 1255.2,866.3 1280.2,865.9 1380.2,866.6 1506.1,866.1 1526.1,866.8 1544.1,868.2 1553.8,869.4 1558.5,870.4 1558.7,871.4 1556.7,872.4 1530.1,875.2 1514.6,876.3 1501.1,876.7 1290.2,876.9 1266.2,876.6 1251.2,876.0 1222.3,873.3 1214.3,872.4ZM1017.2,916.8 1753.1,916.8 1753.1,921.2 1017.2,921.2ZM1017.2,966.2 1753.1,966.2 1753.1,967.5 1017.2,967.5Z"/>
<path fill="#10ffef" fill-rule="evenodd" d="M1249.6,837.4 1250.2,836.0 1251.9,834.4 1255.2,832.8 1259.2,831.6 1270.2,829.4 1285.2,827.5 1304.2,826.0 1328.2,824.9 1385.2,824.0 1442.1,824.9 1466.1,826.0 1485.1,827.5 1500.1,829.3 1511.1,831.4 1515.1,832.6 1519.1,834.4 1520.4,835.4 1521.4,837.4 1520.3,839.4 1518.9,840.4 1512.1,842.9 1501.1,845.1 1486.1,846.9 1466.1,848.4 1442.1,849.5 1385.2,850.3 1329.2,849.5 1305.2,848.4 1285.2,846.9 1271.2,845.3 1259.2,843.0 1252.1,840.4 1250.7,839.4ZM1238.9,870.4 1244.1,869.4 1257.2,868.4 1285.2,867.7 1383.2,868.2 1492.1,867.7 1517.1,868.6 1526.9,869.4 1532.1,870.4 1529.4,871.4 1515.1,873.0 1497.1,874.1 1481.1,874.5 1283.2,874.4 1266.2,873.7 1249.2,872.5 1241.6,871.4Z"/>
<path fill="#20ffdf" fill-rule="evenodd" d="M1251.5,837.4 1252.2,835.8 1253.8,834.4 1260.2,831.9 1271.2,829.7 1287.2,827.7 1307.2,826.2 1330.2,825.1 1385.2,824.3 1441.1,825.2 1464.1,826.2 1484.1,827.7 1499.1,829.6 1510.1,831.7 1517.2,834.4 1518.5,835.4 1519.5,837.4 1519.3,838.4 1518.4,839.4 1516.9,840.4 1511.1,842.5 1500.1,844.8 1485.1,846.7 1466.1,848.1 1442.1,849.2 1385.2,850.1 1328.2,849.2 1305.2,848.1 1286.2,846.7 1271.2,844.9 1260.2,842.6 1254.1,840.4 1252.6,839.4 1251.7,838.4Z"/>
<path fill="#30ffcf" fill-rule="evenodd" d="M1253.3,837.4 1254.2,835.6 1255.8,834.4 1261.2,832.3 1272.2,830.0 1288.2,828.0 1306.2,826.6 1329.2,825.5 1356.2,824.8 1385.2,824.5 1441.1,825.5 1464.1,826.5 1482.1,827.9 1498.1,829.9 1509.1,832.1 1515.2,834.4 1516.6,835.4 1517.5,836.4 1517.7,837.4 1517.4,838.4 1516.5,839.4 1514.9,840.4 1509.6,842.4 1499.1,844.5 1483.1,846.5 1464.1,847.9 1441.1,849.0 1385.2,849.8 1329.2,848.9 1306.2,847.9 1287.2,846.4 1271.2,844.4 1261.4,842.4 1256.1,840.4 1254.5,839.4 1253.6,838.4Z"/>
<path fill="#40ffbf" fill-rule="evenodd" d="M1255.2,837.4 1256.2,835.5 1257.8,834.4 1263.2,832.3 1273.2,830.3 1290.2,828.2 1308.2,826.8 1331.2,825.7 1385.2,824.8 1440.1,825.7 1462.1,826.8 1481.1,828.2 1498.1,830.3 1507.9,832.4 1513.2,834.4 1514.7,835.4 1515.6,836.4 1515.8,837.4 1515.5,838.4 1514.6,839.4 1512.9,840.4 1507.3,842.4 1497.1,844.4 1481.1,846.3 1462.1,847.7 1439.1,848.8 1385.2,849.6 1331.2,848.7 1309.2,847.7 1290.1,846.4 1274.2,844.5 1263.7,842.4 1258.1,840.4 1256.4,839.4 1255.5,838.4Z"/>
<path fill="#50ffaf" fill-rule="evenodd" d="M1257.1,837.4 1257.4,836.4 1258.2,835.5 1259.8,834.4 1265.4,832.4 1275.4,830.4 1291.2,828.5 1310.2,827.0 1332.2,826.0 1385.2,825.1 1438.1,825.9 1460.1,827.0 1479.1,828.4 1495.6,830.4 1505.6,832.4 1511.2,834.4 1512.7,835.4 1513.6,836.4 1513.9,837.4 1513.6,838.4 1512.6,839.4 1510.9,840.4 1505.0,842.4 1494.7,844.4 1480.1,846.1 1461.1,847.5 1439.1,848.5 1385.2,849.3 1332.2,848.5 1309.2,847.4 1291.2,846.1 1276.3,844.4 1266.0,842.4 1260.1,840.4 1258.4,839.4 1257.4,838.4Z"/>
<path fill="#60ff9f" fill-rule="evenodd" d="M1259.1,837.4 1259.3,836.4 1260.2,835.5 1261.9,834.4 1267.8,832.4 1278.4,830.4 1293.2,828.6 1311.2,827.3 1333.2,826.2 1385.2,825.4 1437.1,826.2 1459.1,827.2 1478.1,828.7 1492.6,830.4 1503.2,832.4 1509.1,834.4 1510.7,835.4 1511.7,836.4 1511.9,837.4 1511.6,838.4 1510.6,839.4 1508.8,840.4 1502.7,842.4 1491.9,844.4 1478.1,845.9 1460.1,847.3 1438.1,848.3 1385.2,849.1 1332.2,848.2 1310.2,847.2 1292.2,845.9 1279.1,844.4 1268.3,842.4 1262.2,840.4 1260.4,839.4 1259.4,838.4Z"/>
<path fill="#70ff8f" fill-rule="evenodd" d="M1261.0,837.4 1261.3,836.4 1262.2,835.5 1264.1,834.4 1270.2,832.4 1281.2,830.4 1294.2,828.9 1312.2,827.5 1333.2,826.5 1385.2,825.6 1436.1,826.5 1458.1,827.5 1476.1,828.8 1489.6,830.4 1500.8,832.4 1506.9,834.4 1508.7,835.4 1509.7,836.4 1510.0,837.4 1509.6,838.4 1508.5,839.4 1506.7,840.4 1500.3,842.4 1489.1,844.3 1477.1,845.7 1459.1,847.0 1437.1,848.0 1385.2,848.8 1334.2,848.0 1312.2,847.0 1294.2,845.7 1282.0,844.4 1270.7,842.4 1264.3,840.4 1262.5,839.4 1261.4,838.4Z"/>
<path fill="#80ff80" fill-rule="evenodd" d="M1263.1,837.4 1263.4,836.4 1266.2,834.4 1272.7,832.4 1283.2,830.5 1296.2,829.1 1314.2,827.7 1335.2,826.7 1385.2,825.9 1436.1,826.8 1457.1,827.7 1475.1,829.1 1488.1,830.6 1498.3,832.4 1504.8,834.4 1506.6,835.4 1507.6,836.4 1507.9,837.4 1507.6,838.4 1506.1,839.5 1499.1,842.0 1489.1,843.9 1476.1,845.4 1458.1,846.8 1436.1,847.8 1385.2,848.6 1334.2,847.8 1313.2,846.8 1295.2,845.5 1282.2,844.0 1272.2,842.1 1265.2,839.7 1263.4,838.4Z"/>
<path fill="#8fff70" fill-rule="evenodd" d="M1265.1,837.4 1265.5,836.4 1266.5,835.4 1268.5,834.4 1273.2,832.9 1283.2,831.0 1297.2,829.3 1315.2,828.0 1336.2,827.0 1385.2,826.2 1434.1,827.0 1455.1,827.9 1473.1,829.3 1487.1,830.9 1497.1,832.7 1501.1,833.9 1504.1,835.2 1505.5,836.4 1505.9,837.4 1505.5,838.4 1504.3,839.4 1502.3,840.4 1497.1,841.9 1487.1,843.8 1473.3,845.4 1456.1,846.6 1435.1,847.6 1385.2,848.4 1336.2,847.6 1315.2,846.6 1297.7,845.4 1284.2,843.8 1274.2,842.0 1268.7,840.4 1266.7,839.4 1265.5,838.4Z"/>
<path fill="#9fff60" fill-rule="evenodd" d="M1267.2,837.4 1267.6,836.4 1268.7,835.4 1275.2,833.0 1284.2,831.3 1299.2,829.5 1316.2,828.2 1337.2,827.2 1385.2,826.4 1433.1,827.2 1453.1,828.1 1471.1,829.4 1486.1,831.2 1495.1,832.8 1500.3,834.4 1502.3,835.4 1503.4,836.4 1503.8,837.4 1503.4,838.4 1502.2,839.4 1500.1,840.4 1495.1,841.8 1486.1,843.5 1471.1,845.2 1454.1,846.4 1433.2,847.4 1385.2,848.1 1337.8,847.4 1300.2,845.2 1286.2,843.7 1276.2,841.9 1270.9,840.4 1268.8,839.4 1267.6,838.4Z"/>
<path fill="#afff50" fill-rule="evenodd" d="M1269.4,837.4 1269.7,836.4 1270.9,835.4 1276.2,833.4 1286.4,831.4 1300.2,829.8 1318.2,828.4 1338.2,827.5 1385.2,826.7 1432.1,827.5 1452.1,828.4 1470.1,829.7 1484.6,831.4 1494.8,833.4 1500.1,835.4 1501.3,836.4 1501.6,837.4 1501.2,838.4 1500.0,839.4 1494.6,841.4 1484.2,843.4 1470.1,845.0 1453.1,846.2 1433.1,847.1 1385.2,847.9 1338.2,847.1 1301.2,845.0 1286.8,843.4 1276.4,841.4 1271.0,839.4 1269.8,838.4Z"/>
<path fill="#bfff40" fill-rule="evenodd" d="M1271.5,837.4 1271.9,836.4 1273.2,835.4 1278.7,833.4 1289.4,831.4 1302.2,829.9 1319.2,828.7 1339.2,827.7 1385.2,827.0 1432.1,827.8 1452.1,828.7 1469.1,830.0 1481.6,831.4 1492.3,833.4 1497.8,835.4 1499.1,836.4 1499.5,837.4 1499.0,838.4 1497.7,839.4 1492.1,841.4 1481.3,843.4 1468.1,844.8 1431.1,846.9 1385.2,847.6 1338.2,846.8 1302.2,844.7 1289.7,843.4 1278.9,841.4 1273.3,839.4 1272.0,838.4Z"/>
<path fill="#cfff30" fill-rule="evenodd" d="M1273.8,837.4 1274.1,836.4 1275.5,835.4 1281.2,833.4 1291.2,831.6 1303.2,830.2 1339.2,828.0 1385.2,827.2 1430.1,828.0 1467.1,830.1 1479.1,831.5 1489.8,833.4 1495.5,835.4 1496.9,836.4 1497.2,837.4 1496.8,838.4 1495.5,839.4 1489.6,841.4 1479.1,843.2 1467.1,844.6 1431.1,846.6 1385.2,847.4 1339.2,846.6 1303.2,844.5 1292.2,843.3 1281.4,841.4 1275.5,839.4 1274.2,838.4Z"/>
<path fill="#dfff20" fill-rule="evenodd" d="M1276.0,837.4 1276.4,836.4 1277.8,835.4 1283.8,833.4 1293.2,831.7 1305.0,830.4 1341.2,828.2 1385.2,827.5 1430.1,828.3 1466.0,830.4 1477.1,831.6 1487.2,833.4 1493.2,835.4 1494.6,836.4 1495.0,837.4 1494.5,838.4 1493.1,839.4 1487.0,841.4 1477.1,843.1 1465.6,844.4 1430.1,846.4 1385.2,847.1 1340.2,846.4 1305.4,844.4 1294.2,843.1 1284.0,841.4 1277.9,839.4 1276.5,838.4Z"/>
<path fill="#efff10" fill-rule="evenodd" d="M1278.3,837.4 1278.7,836.4 1280.2,835.4 1286.5,833.4 1297.2,831.6 1309.0,830.4 1343.2,828.5 1385.2,827.8 1427.1,828.4 1462.1,830.4 1474.1,831.7 1484.5,833.4 1490.8,835.4 1492.3,836.4 1492.7,837.4 1492.2,838.4 1490.8,839.4 1484.4,841.4 1474.1,843.1 1461.8,844.4 1427.1,846.2 1385.2,846.9 1343.2,846.2 1309.2,844.4 1297.2,843.1 1286.6,841.4 1280.2,839.4 1278.8,838.4Z"/>
<path fill="#ffff00" fill-rule="evenodd" d="M1280.7,837.4 1281.1,836.4 1282.6,835.4 1289.2,833.4 1298.2,831.9 1310.2,830.6 1344.2,828.7 1385.2,828.0 1427.1,828.7 1461.1,830.6 1473.1,831.9 1481.8,833.4 1488.4,835.4 1489.9,836.4 1490.3,837.4 1489.9,838.4 1488.3,839.4 1481.7,841.4 1472.1,842.9 1460.1,844.2 1426.1,846.0 1385.2,846.6 1343.2,846.0 1310.2,844.1 1298.2,842.8 1289.3,841.4 1282.7,839.4 1281.1,838.4Z"/>
<path fill="#ffef00" fill-rule="evenodd" d="M1283.1,837.4 1283.5,836.4 1285.1,835.4 1291.2,833.6 1298.2,832.3 1311.2,830.9 1344.2,829.0 1385.2,828.3 1426.1,829.0 1460.1,830.9 1473.1,832.4 1480.1,833.6 1485.9,835.4 1487.5,836.4 1487.9,837.4 1487.4,838.4 1485.9,839.4 1478.9,841.4 1459.1,843.9 1426.1,845.7 1385.2,846.4 1344.2,845.7 1311.2,843.8 1298.2,842.4 1291.2,841.1 1285.1,839.4 1283.6,838.4Z"/>
<path fill="#ffdf00" fill-rule="evenodd" d="M1285.5,837.4 1286.0,836.4 1287.7,835.4 1292.2,834.0 1301.1,832.4 1312.2,831.2 1344.2,829.3 1385.2,828.6 1425.1,829.2 1458.1,831.1 1469.9,832.4 1478.1,833.8 1483.3,835.4 1485.0,836.4 1485.5,837.4 1485.0,838.4 1483.3,839.4 1478.1,840.9 1469.8,842.4 1458.1,843.6 1426.1,845.5 1385.2,846.1 1344.2,845.5 1312.2,843.6 1301.2,842.4 1292.2,840.7 1287.7,839.4 1286.0,838.4Z"/>
<path fill="#ffcf00" fill-rule="evenodd" d="M1288.0,837.4 1288.5,836.4 1290.2,835.4 1293.3,834.4 1302.2,832.7 1313.7,831.4 1346.2,829.5 1385.2,828.8 1424.1,829.5 1457.1,831.4 1468.1,832.6 1477.7,834.4 1480.7,835.4 1482.5,836.4 1483.0,837.4 1482.4,838.4 1480.7,839.4 1477.7,840.4 1468.1,842.1 1457.1,843.4 1424.1,845.3 1385.2,845.9 1346.2,845.3 1313.7,843.4 1303.2,842.2 1293.3,840.4 1290.3,839.4 1288.6,838.4Z"/>
<path fill="#ffbf00" fill-rule="evenodd" d="M1290.6,837.4 1291.1,836.4 1292.9,835.4 1296.2,834.4 1306.2,832.6 1317.8,831.4 1348.2,829.7 1385.2,829.1 1422.1,829.7 1453.2,831.4 1465.1,832.7 1474.8,834.4 1478.1,835.4 1479.9,836.4 1480.4,837.4 1479.9,838.4 1478.1,839.4 1474.9,840.4 1465.1,842.1 1453.3,843.4 1422.1,845.1 1385.2,845.6 1348.2,845.0 1317.7,843.4 1306.2,842.1 1296.2,840.4 1292.9,839.4 1291.1,838.4Z"/>
<path fill="#ffaf00" fill-rule="evenodd" d="M1293.2,837.4 1293.8,836.4 1295.7,835.4 1299.1,834.4 1308.2,832.8 1320.2,831.5 1349.2,829.9 1385.2,829.4 1421.1,829.9 1450.1,831.5 1462.1,832.7 1471.9,834.4 1475.3,835.4 1477.2,836.4 1477.8,837.4 1477.2,838.4 1475.3,839.4 1472.0,840.4 1462.1,842.0 1450.1,843.3 1421.1,844.8 1385.2,845.4 1349.2,844.8 1320.2,843.2 1308.2,841.9 1299.0,840.4 1295.7,839.4 1293.8,838.4Z"/>
<path fill="#ff9f00" fill-rule="evenodd" d="M1295.9,837.4 1296.5,836.4 1298.5,835.4 1302.1,834.4 1309.2,833.1 1321.2,831.8 1349.2,830.2 1385.2,829.6 1421.1,830.2 1449.1,831.8 1461.1,833.0 1468.9,834.4 1472.5,835.4 1474.5,836.4 1475.1,837.4 1474.5,838.4 1472.5,839.4 1469.0,840.4 1461.1,841.7 1449.1,843.0 1421.1,844.5 1385.2,845.1 1349.2,844.5 1321.2,842.9 1309.2,841.6 1302.0,840.4 1298.5,839.4 1296.5,838.4Z"/>
<path fill="#ff8f00" fill-rule="evenodd" d="M1298.7,837.4 1299.3,836.4 1301.4,835.4 1305.2,834.4 1322.2,832.1 1351.2,830.5 1385.2,829.9 1419.1,830.4 1448.1,832.1 1465.8,834.4 1469.6,835.4 1471.7,836.4 1472.3,837.4 1471.7,838.4 1469.6,839.4 1465.9,840.4 1460.1,841.4 1448.1,842.7 1419.1,844.3 1385.2,844.8 1351.2,844.3 1322.2,842.6 1305.1,840.4 1301.4,839.4 1299.3,838.4Z"/>
<path fill="#ff8000" fill-rule="evenodd" d="M1301.5,837.4 1302.2,836.4 1304.5,835.4 1308.4,834.4 1323.6,832.4 1351.2,830.8 1385.2,830.2 1419.1,830.7 1447.4,832.4 1462.6,834.4 1466.5,835.4 1468.8,836.4 1469.5,837.4 1468.8,838.4 1466.6,839.4 1462.7,840.4 1447.7,842.4 1419.1,844.0 1385.2,844.6 1351.2,844.0 1323.3,842.4 1308.3,840.4 1304.4,839.4 1302.2,838.4Z"/>
<path fill="#ff7000" fill-rule="evenodd" d="M1304.5,837.4 1305.2,836.4 1307.6,835.4 1311.8,834.4 1328.1,832.4 1354.2,831.0 1385.2,830.5 1417.1,831.0 1442.9,832.4 1459.2,834.4 1463.4,835.4 1465.8,836.4 1466.5,837.4 1465.8,838.4 1463.5,839.4 1459.4,840.4 1443.3,842.4 1417.1,843.8 1385.2,844.3 1353.2,843.8 1327.7,842.4 1311.6,840.4 1307.5,839.4 1305.2,838.4Z"/>
<path fill="#ff6000" fill-rule="evenodd" d="M1307.5,837.4 1308.3,836.4 1310.8,835.4 1315.3,834.4 1331.2,832.5 1355.2,831.2 1385.2,830.7 1415.1,831.2 1439.1,832.5 1455.7,834.4 1460.2,835.4 1462.7,836.4 1463.5,837.4 1462.7,838.4 1460.3,839.4 1455.9,840.4 1439.1,842.3 1415.1,843.6 1385.2,844.0 1355.2,843.5 1331.2,842.2 1315.1,840.4 1310.7,839.4 1308.3,838.4Z"/>
<path fill="#ff5000" fill-rule="evenodd" d="M1310.7,837.4 1311.5,836.4 1316.2,834.9 1332.2,832.9 1357.2,831.5 1385.2,831.0 1413.1,831.5 1438.1,832.8 1454.1,834.8 1459.5,836.4 1460.3,837.4 1459.1,838.5 1453.1,840.2 1438.1,842.0 1413.1,843.3 1385.2,843.7 1357.2,843.3 1332.2,841.9 1317.2,840.0 1311.5,838.4Z"/>
<path fill="#ff4000" fill-rule="evenodd" d="M1314.0,837.4 1314.9,836.4 1317.7,835.4 1322.8,834.4 1333.2,833.2 1356.2,831.8 1385.2,831.3 1414.1,831.8 1438.1,833.2 1448.2,834.4 1453.3,835.4 1456.1,836.4 1457.0,837.4 1456.2,838.4 1453.4,839.4 1448.4,840.4 1438.1,841.6 1414.1,843.0 1385.2,843.4 1357.2,843.0 1333.2,841.6 1322.6,840.4 1317.6,839.4 1314.8,838.4Z"/>
<path fill="#ff3000" fill-rule="evenodd" d="M1317.4,837.4 1318.4,836.4 1321.4,835.4 1336.0,833.4 1357.2,832.1 1385.2,831.7 1413.1,832.1 1435.0,833.4 1449.6,835.4 1452.6,836.4 1453.6,837.4 1452.7,838.4 1449.7,839.4 1435.5,841.4 1413.1,842.7 1385.2,843.1 1357.2,842.6 1335.5,841.4 1321.3,839.4 1318.3,838.4Z"/>
<path fill="#ff2000" fill-rule="evenodd" d="M1321.1,837.4 1322.1,836.4 1325.4,835.4 1341.5,833.4 1360.5,832.4 1385.2,832.0 1410.1,832.4 1429.5,833.4 1445.6,835.4 1448.9,836.4 1449.9,837.4 1449.0,838.4 1445.8,839.4 1430.2,841.4 1411.1,842.4 1385.2,842.8 1360.2,842.4 1340.8,841.4 1325.2,839.4 1322.0,838.4Z"/>
<path fill="#ff1000" fill-rule="evenodd" d="M1324.9,837.4 1326.0,836.4 1329.6,835.4 1343.2,833.7 1363.2,832.7 1385.2,832.3 1407.1,832.6 1427.1,833.7 1441.4,835.4 1445.0,836.4 1446.1,837.4 1445.1,838.4 1441.7,839.4 1427.1,841.1 1407.1,842.1 1385.2,842.5 1363.2,842.1 1343.2,841.1 1329.3,839.4 1325.9,838.4Z"/>
<path fill="#ff0000" fill-rule="evenodd" d="M1329.0,837.4 1330.2,836.4 1334.1,835.4 1344.2,834.1 1362.2,833.1 1385.2,832.7 1409.1,833.1 1427.1,834.2 1436.9,835.4 1440.8,836.4 1442.0,837.4 1440.9,838.4 1437.2,839.4 1427.1,840.6 1409.1,841.7 1385.2,842.1 1362.2,841.7 1344.2,840.6 1333.8,839.4 1330.1,838.4Z"/>
<path fill="#ef0000" fill-rule="evenodd" d="M1333.3,837.4 1334.7,836.4 1339.0,835.4 1347.5,834.4 1365.2,833.4 1385.2,833.1 1405.8,833.4 1423.5,834.4 1432.0,835.4 1436.3,836.4 1437.7,837.4 1436.5,838.4 1432.3,839.4 1424.1,840.4 1407.5,841.4 1385.2,841.7 1363.5,841.4 1346.9,840.4 1338.7,839.4 1334.5,838.4Z"/>
<path fill="#df0000" fill-rule="evenodd" d="M1338.1,837.4 1339.6,836.4 1344.5,835.4 1354.2,834.4 1385.2,833.5 1416.3,834.4 1426.5,835.4 1431.4,836.4 1432.9,837.4 1431.6,838.4 1426.9,839.4 1417.2,840.4 1401.1,841.1 1385.2,841.3 1353.8,840.4 1344.1,839.4 1339.4,838.4Z"/>
<path fill="#cf0000" fill-rule="evenodd" d="M1343.4,837.4 1345.1,836.4 1355.2,835.0 1367.2,834.2 1385.2,833.9 1403.1,834.2 1415.1,834.9 1425.9,836.4 1427.6,837.4 1426.1,838.4 1415.1,839.9 1402.1,840.6 1385.2,840.9 1367.2,840.5 1355.2,839.8 1344.9,838.4Z"/>
<path fill="#bf0000" fill-rule="evenodd" d="M1349.4,837.4 1351.5,836.4 1358.7,835.4 1385.2,834.4 1399.1,834.7 1412.3,835.4 1419.5,836.4 1421.6,837.4 1419.8,838.4 1413.0,839.4 1399.1,840.2 1385.2,840.4 1371.2,840.1 1358.0,839.4 1351.2,838.4Z"/>
<path fill="#af0000" fill-rule="evenodd" d="M1356.6,837.4 1359.3,836.4 1367.2,835.6 1385.2,835.0 1403.1,835.5 1411.7,836.4 1414.4,837.4 1412.1,838.4 1403.1,839.3 1385.2,839.8 1367.2,839.2 1358.9,838.4Z"/>
<path fill="#9f0000" fill-rule="evenodd" d="M1366.3,837.4 1370.8,836.4 1385.2,835.9 1400.2,836.4 1404.7,837.4 1400.9,838.4 1385.2,838.9 1370.1,838.4Z"/>
<path d="M1019,997.7H1751" stroke="#c0d4ff" stroke-width="1.7"/>
<path d="M1019,1021H1751" stroke="#10f0ff" stroke-width="1.7"/>
<path d="M1019,1161.5H1751M1019,1307.7H1751" stroke="#000050" stroke-opacity="0.3" stroke-width="1.6"/>
<path d="M1019,1234.1H1751" stroke="#000050" stroke-opacity="0.55" stroke-width="1.8"/>
<path d="M1019,1140.9H1751" stroke="#969ff0" stroke-width="1.3"/>
<path d="M1019,1176.2H1751" stroke="#d2d7fa" stroke-width="1.6"/>
<path d="M1019,1199.4H1751" stroke="#dcdcfa" stroke-width="1.6"/>
<path d="M1019,1319.3H1751" stroke="#969ff0" stroke-width="1.3"/>
<path d="M1019,1342.4H1751" stroke="#aab4fa" stroke-width="1.5"/>
<path d="M1019,1354.5H1751" stroke="#828ceb" stroke-width="1.3"/>
</g>
<path d="M1750.6,765.4V1408.1" stroke="#223" stroke-opacity="0.6" stroke-width="1" stroke-dasharray="1.5,2"/>
<linearGradient id="cb1764" x1="0" y1="0" x2="0" y2="1">
<stop offset="0.0078" stop-color="#800000"/>
<stop offset="0.0234" stop-color="#8f0000"/>
<stop offset="0.0391" stop-color="#9f0000"/>
<stop offset="0.0547" stop-color="#af0000"/>
<stop offset="0.0703" stop-color="#bf0000"/>
<stop offset="0.0859" stop-color="#cf0000"/>
<stop offset="0.1016" stop-color="#df0000"/>
<stop offset="0.1172" stop-color="#ef0000"/>
<stop offset="0.1328" stop-color="#ff0000"/>
<stop offset="0.1484" stop-color="#ff1000"/>
<stop offset="0.1641" stop-color="#ff2000"/>
<stop offset="0.1797" stop-color="#ff3000"/>
<stop offset="0.1953" stop-color="#ff4000"/>
<stop offset="0.2109" stop-color="#ff5000"/>
<stop offset="0.2266" stop-color="#ff6000"/>
<stop offset="0.2422" stop-color="#ff7000"/>
<stop offset="0.2578" stop-color="#ff8000"/>
<stop offset="0.2734" stop-color="#ff8f00"/>
<stop offset="0.2891" stop-color="#ff9f00"/>
<stop offset="0.3047" stop-color="#ffaf00"/>
<stop offset="0.3203" stop-color="#ffbf00"/>
<stop offset="0.3359" stop-color="#ffcf00"/>
<stop offset="0.3516" stop-color="#ffdf00"/>
<stop offset="0.3672" stop-color="#ffef00"/>
<stop offset="0.3828" stop-color="#ffff00"/>
<stop offset="0.3984" stop-color="#efff10"/>
<stop offset="0.4141" stop-color="#dfff20"/>
<stop offset="0.4297" stop-color="#cfff30"/>
<stop offset="0.4453" stop-color="#bfff40"/>
<stop offset="0.4609" stop-color="#afff50"/>
<stop offset="0.4766" stop-color="#9fff60"/>
<stop offset="0.4922" stop-color="#8fff70"/>
<stop offset="0.5078" stop-color="#80ff80"/>
<stop offset="0.5234" stop-color="#70ff8f"/>
<stop offset="0.5391" stop-color="#60ff9f"/>
<stop offset="0.5547" stop-color="#50ffaf"/>
<stop offset="0.5703" stop-color="#40ffbf"/>
<stop offset="0.5859" stop-color="#30ffcf"/>
<stop offset="0.6016" stop-color="#20ffdf"/>
<stop offset="0.6172" stop-color="#10ffef"/>
<stop offset="0.6328" stop-color="#00ffff"/>
<stop offset="0.6484" stop-color="#00efff"/>
<stop offset="0.6641" stop-color="#00dfff"/>
<stop offset="0.6797" stop-color="#00cfff"/>
<stop offset="0.6953" stop-color="#00bfff"/>
<stop offset="0.7109" stop-color="#00afff"/>
<stop offset="0.7266" stop-color="#009fff"/>
<stop offset="0.7422" stop-color="#008fff"/>
<stop offset="0.7578" stop-color="#0080ff"/>
<stop offset="0.7734" stop-color="#0070ff"/>
<stop offset="0.7891" stop-color="#0060ff"/>
<stop offset="0.8047" stop-color="#0050ff"/>
<stop offset="0.8203" stop-color="#0040ff"/>
<stop offset="0.8359" stop-color="#0030ff"/>
<stop offset="0.8516" stop-color="#0020ff"/>
<stop offset="0.8672" stop-color="#0010ff"/>
<stop offset="0.8828" stop-color="#0000ff"/>
<stop offset="0.8984" stop-color="#0000ef"/>
<stop offset="0.9141" stop-color="#0000df"/>
<stop offset="0.9297" stop-color="#0000cf"/>
<stop offset="0.9453" stop-color="#0000bf"/>
<stop offset="0.9609" stop-color="#0000af"/>
<stop offset="0.9766" stop-color="#00009f"/>
<stop offset="0.9922" stop-color="#000095"/>
</linearGradient>
<rect x="1764.1" y="765.4" width="21.300000000000182" height="642.6999999999999" fill="url(#cb1764)"/>
<path d="M1764.8,766.4V1408.1M1784.7,766.4V1408.1" stroke="#000" stroke-opacity="0.12" stroke-width="1.4"/>
<text transform="translate(1788.8,1336.3)" x="0.0" y="0" font-family='"Liberation Sans", Arial, Helvetica, sans-serif' font-weight="bold" font-size="19.5" textLength="37.3" lengthAdjust="spacingAndGlyphs">100</text>
<text transform="translate(1788.8,1256.9)" x="0.0" y="0" font-family='"Liberation Sans", Arial, Helvetica, sans-serif' font-weight="bold" font-size="19.5" textLength="37.3" lengthAdjust="spacingAndGlyphs">200</text>
<text transform="translate(1788.8,1177.5)" x="0.0" y="0" font-family='"Liberation Sans", Arial, Helvetica, sans-serif' font-weight="bold" font-size="19.5" textLength="37.3" lengthAdjust="spacingAndGlyphs">300</text>
<text transform="translate(1788.8,1098.1)" x="0.0" y="0" font-family='"Liberation Sans", Arial, Helvetica, sans-serif' font-weight="bold" font-size="19.5" textLength="37.3" lengthAdjust="spacingAndGlyphs">400</text>
<text transform="translate(1788.8,1018.7)" x="0.0" y="0" font-family='"Liberation Sans", Arial, Helvetica, sans-serif' font-weight="bold" font-size="19.5" textLength="37.3" lengthAdjust="spacingAndGlyphs">500</text>
<text transform="translate(1788.8,939.3)" x="0.0" y="0" font-family='"Liberation Sans", Arial, Helvetica, sans-serif' font-weight="bold" font-size="19.5" textLength="37.3" lengthAdjust="spacingAndGlyphs">600</text>
<text transform="translate(1788.8,859.9)" x="0.0" y="0" font-family='"Liberation Sans", Arial, Helvetica, sans-serif' font-weight="bold" font-size="19.5" textLength="37.3" lengthAdjust="spacingAndGlyphs">700</text>
<text transform="translate(1788.8,780.5)" x="0.0" y="0" font-family='"Liberation Sans", Arial, Helvetica, sans-serif' font-weight="bold" font-size="19.5" textLength="37.3" lengthAdjust="spacingAndGlyphs">800</text>
<path d="M1764.1,1329.4h4M1785.4,1329.4h-4M1764.1,1250.0h4M1785.4,1250.0h-4M1764.1,1170.6h4M1785.4,1170.6h-4M1764.1,1091.2h4M1785.4,1091.2h-4M1764.1,1011.8h4M1785.4,1011.8h-4M1764.1,932.4h4M1785.4,932.4h-4M1764.1,853.0h4M1785.4,853.0h-4" stroke="#000" stroke-opacity="0.12" stroke-width="1.2"/>
<text transform="translate(1015.5,827.9)" x="-12.5" y="0" font-family='"Liberation Sans", Arial, Helvetica, sans-serif' font-weight="bold" font-size="20.5" textLength="12.5" lengthAdjust="spacingAndGlyphs">0</text>
<text transform="translate(1015.5,910.8)" x="-12.5" y="0" font-family='"Liberation Sans", Arial, Helvetica, sans-serif' font-weight="bold" font-size="20.5" textLength="12.5" lengthAdjust="spacingAndGlyphs">2</text>
<text transform="translate(1015.5,993.6)" x="-12.5" y="0" font-family='"Liberation Sans", Arial, Helvetica, sans-serif' font-weight="bold" font-size="20.5" textLength="12.5" lengthAdjust="spacingAndGlyphs">4</text>
<text transform="translate(1015.5,1076.5)" x="-12.5" y="0" font-family='"Liberation Sans", Arial, Helvetica, sans-serif' font-weight="bold" font-size="20.5" textLength="12.5" lengthAdjust="spacingAndGlyphs">6</text>
<text transform="translate(1015.5,1159.3)" x="-12.5" y="0" font-family='"Liberation Sans", Arial, Helvetica, sans-serif' font-weight="bold" font-size="20.5" textLength="12.5" lengthAdjust="spacingAndGlyphs">8</text>
<text transform="translate(1015.5,1242.2)" x="-25.1" y="0" font-family='"Liberation Sans", Arial, Helvetica, sans-serif' font-weight="bold" font-size="20.5" textLength="25.1" lengthAdjust="spacingAndGlyphs">10</text>
<text transform="translate(1015.5,1325.1)" x="-25.1" y="0" font-family='"Liberation Sans", Arial, Helvetica, sans-serif' font-weight="bold" font-size="20.5" textLength="25.1" lengthAdjust="spacingAndGlyphs">12</text>
<text transform="translate(1015.5,1407.9)" x="-25.1" y="0" font-family='"Liberation Sans", Arial, Helvetica, sans-serif' font-weight="bold" font-size="20.5" textLength="25.1" lengthAdjust="spacingAndGlyphs">14</text>
<text transform="translate(1019.9,1429.7)" x="-6.3" y="0" font-family='"Liberation Sans", Arial, Helvetica, sans-serif' font-weight="bold" font-size="20" textLength="12.6" lengthAdjust="spacingAndGlyphs">0</text>
<text transform="translate(1202.4,1429.7)" x="-15.7" y="0" font-family='"Liberation Sans", Arial, Helvetica, sans-serif' font-weight="bold" font-size="20" textLength="31.4" lengthAdjust="spacingAndGlyphs">0.5</text>
<text transform="translate(1384.8,1429.7)" x="-6.3" y="0" font-family='"Liberation Sans", Arial, Helvetica, sans-serif' font-weight="bold" font-size="20" textLength="12.6" lengthAdjust="spacingAndGlyphs">1</text>
<text transform="translate(1567.3,1429.7)" x="-15.7" y="0" font-family='"Liberation Sans", Arial, Helvetica, sans-serif' font-weight="bold" font-size="20" textLength="31.4" lengthAdjust="spacingAndGlyphs">1.5</text>
<text transform="translate(1749.8,1429.7)" x="-6.3" y="0" font-family='"Liberation Sans", Arial, Helvetica, sans-serif' font-weight="bold" font-size="20" textLength="12.6" lengthAdjust="spacingAndGlyphs">2</text>
<text transform="translate(1385.0,1451.0)" x="-36.4" y="0" font-family='"Liberation Sans", Arial, Helvetica, sans-serif' font-weight="bold" font-size="21.5" textLength="72.7" lengthAdjust="spacingAndGlyphs">x (<tspan font-weight="normal">μ</tspan>m)</text>
<text transform="translate(980.9,1087.7) rotate(-90) scale(1,1.27)" x="-31.1" y="0" font-family='"Liberation Sans", Arial, Helvetica, sans-serif' font-weight="bold" font-size="21.6" textLength="62.2" lengthAdjust="spacingAndGlyphs">z (<tspan font-weight="normal">μ</tspan>m)</text>
<text x="962.9" y="783" font-family='"Liberation Serif", "Times New Roman", serif' font-weight="bold" font-size="32" textLength="43.4" lengthAdjust="spacingAndGlyphs">(d)</text>
</svg>
</body></html>
